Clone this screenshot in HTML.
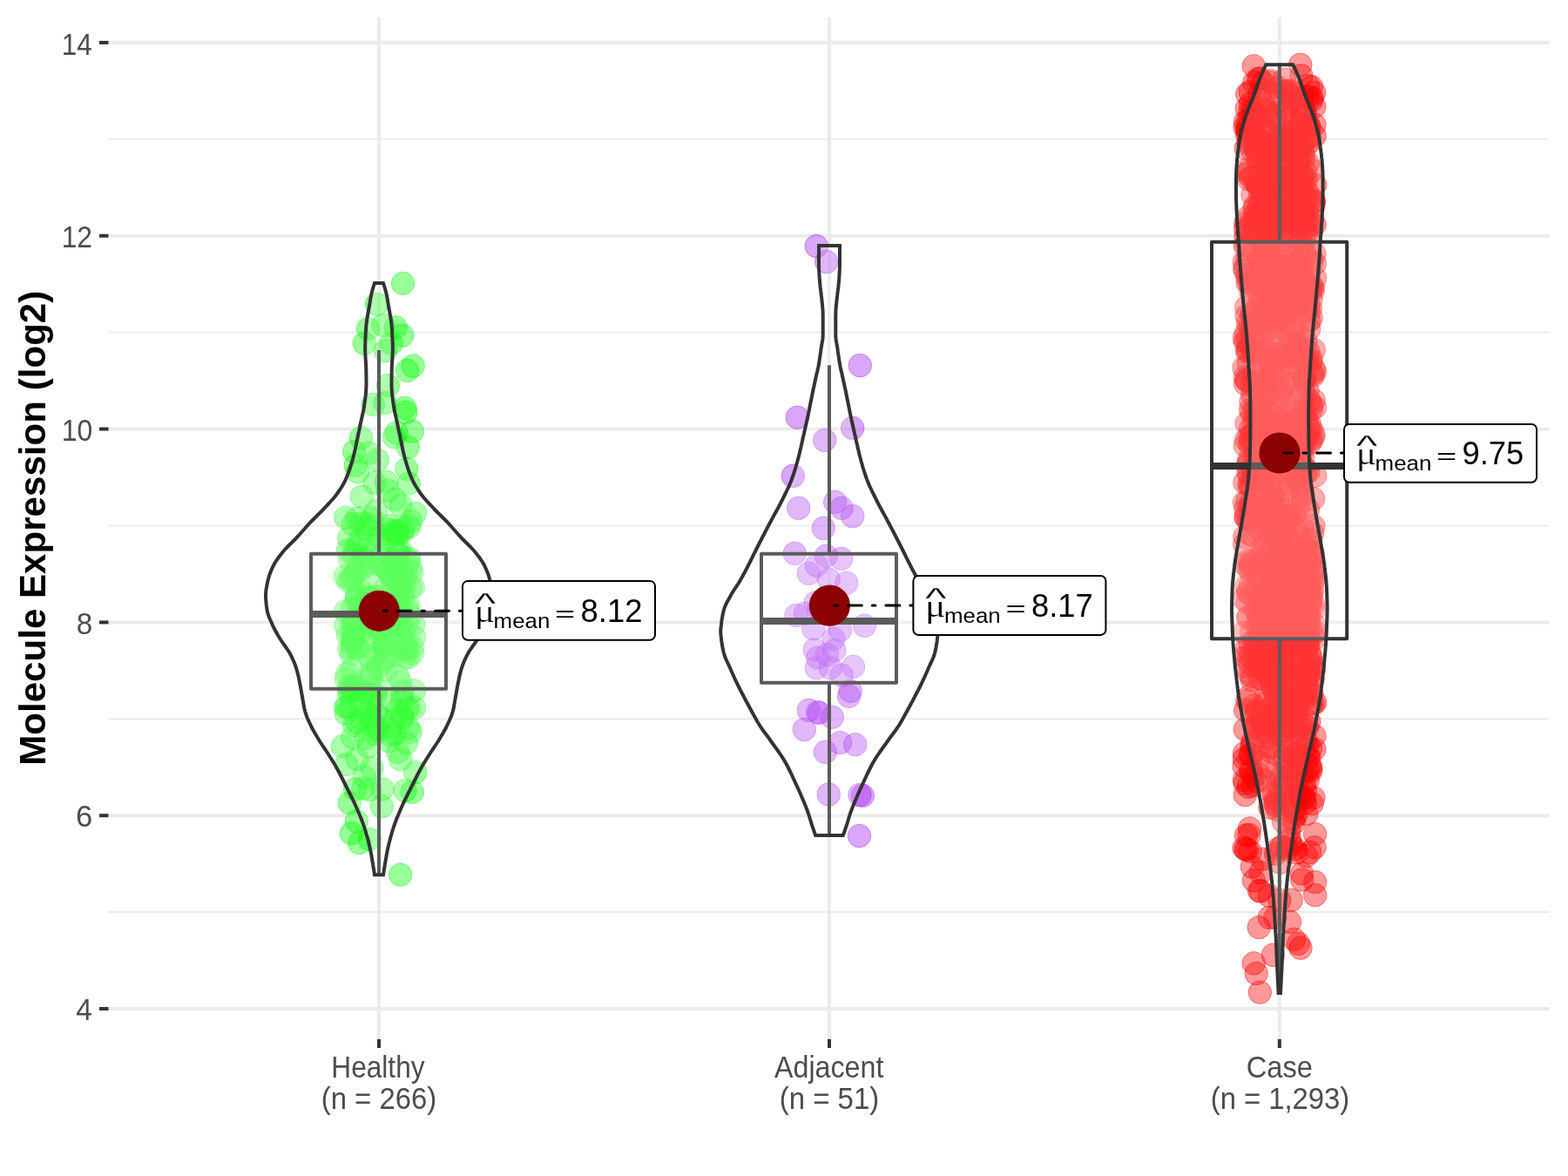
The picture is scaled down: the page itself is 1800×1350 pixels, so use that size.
<!DOCTYPE html>
<html lang="en"><head><meta charset="utf-8"><title>Molecule Expression (log2)</title>
<style>
html,body{margin:0;padding:0;background:#fff;}
body{width:1800px;height:1350px;overflow:hidden;}
svg{display:block;}
text{font-family:"Liberation Sans",sans-serif;}
.tk{fill:#4D4D4D;}
.yt{font-weight:bold;fill:#000;}
.lb{fill:#000;}
.mu{font-family:"Liberation Serif",serif;fill:#000;}
.p0 circle{fill:#00FF00;fill-opacity:.4;stroke:#00FF00;stroke-opacity:.4;stroke-width:1;}
.p1 circle{fill:#A020F0;fill-opacity:.4;stroke:#A020F0;stroke-opacity:.4;stroke-width:1;}
.p2 circle{fill:#FF0000;fill-opacity:.4;stroke:#FF0000;stroke-opacity:.4;stroke-width:1;}
</style></head><body>
<svg width="1800" height="1350" viewBox="0 0 1800 1350">
<rect width="1800" height="1350" fill="#fff"/>

<g stroke="#EBEBEB" fill="none">
<line x1="124.5" x2="1778.8" y1="1047.1" y2="1047.1" stroke-width="2"/>
<line x1="124.5" x2="1778.8" y1="825.3" y2="825.3" stroke-width="2"/>
<line x1="124.5" x2="1778.8" y1="603.5" y2="603.5" stroke-width="2"/>
<line x1="124.5" x2="1778.8" y1="381.6" y2="381.6" stroke-width="2"/>
<line x1="124.5" x2="1778.8" y1="159.8" y2="159.8" stroke-width="2"/>
<line x1="124.5" x2="1778.8" y1="1158.0" y2="1158.0" stroke-width="4"/>
<line x1="124.5" x2="1778.8" y1="936.2" y2="936.2" stroke-width="4"/>
<line x1="124.5" x2="1778.8" y1="714.4" y2="714.4" stroke-width="4"/>
<line x1="124.5" x2="1778.8" y1="492.5" y2="492.5" stroke-width="4"/>
<line x1="124.5" x2="1778.8" y1="270.7" y2="270.7" stroke-width="4"/>
<line x1="124.5" x2="1778.8" y1="48.9" y2="48.9" stroke-width="4"/>
<line x1="435.0" x2="435.0" y1="20.0" y2="1192.0" stroke-width="4"/>
<line x1="952.0" x2="952.0" y1="20.0" y2="1192.0" stroke-width="4"/>
<line x1="1468.8" x2="1468.8" y1="20.0" y2="1192.0" stroke-width="4"/>
</g>
<g class="p0">
<circle cx="441.1" cy="741.9" r="13.3"/>
<circle cx="397.3" cy="819.1" r="13.3"/>
<circle cx="459.7" cy="782.6" r="13.3"/>
<circle cx="472.7" cy="656.9" r="13.3"/>
<circle cx="464.0" cy="672.5" r="13.3"/>
<circle cx="398.2" cy="811.8" r="13.3"/>
<circle cx="421.8" cy="601.7" r="13.3"/>
<circle cx="420.1" cy="796.0" r="13.3"/>
<circle cx="403.2" cy="788.8" r="13.3"/>
<circle cx="445.4" cy="706.8" r="13.3"/>
<circle cx="459.4" cy="673.1" r="13.3"/>
<circle cx="419.7" cy="668.0" r="13.3"/>
<circle cx="464.8" cy="663.2" r="13.3"/>
<circle cx="459.4" cy="702.1" r="13.3"/>
<circle cx="404.6" cy="714.5" r="13.3"/>
<circle cx="456.9" cy="725.2" r="13.3"/>
<circle cx="466.4" cy="853.2" r="13.3"/>
<circle cx="410.2" cy="787.6" r="13.3"/>
<circle cx="441.0" cy="741.2" r="13.3"/>
<circle cx="446.4" cy="850.6" r="13.3"/>
<circle cx="444.0" cy="654.8" r="13.3"/>
<circle cx="401.9" cy="642.8" r="13.3"/>
<circle cx="448.2" cy="738.8" r="13.3"/>
<circle cx="445.8" cy="613.6" r="13.3"/>
<circle cx="461.6" cy="611.1" r="13.3"/>
<circle cx="459.9" cy="716.7" r="13.3"/>
<circle cx="420.8" cy="706.4" r="13.3"/>
<circle cx="453.2" cy="825.5" r="13.3"/>
<circle cx="465.1" cy="742.9" r="13.3"/>
<circle cx="467.2" cy="716.6" r="13.3"/>
<circle cx="407.2" cy="712.9" r="13.3"/>
<circle cx="396.2" cy="661.6" r="13.3"/>
<circle cx="447.4" cy="603.8" r="13.3"/>
<circle cx="411.6" cy="649.9" r="13.3"/>
<circle cx="440.2" cy="759.1" r="13.3"/>
<circle cx="471.5" cy="651.7" r="13.3"/>
<circle cx="425.1" cy="686.6" r="13.3"/>
<circle cx="414.7" cy="601.2" r="13.3"/>
<circle cx="431.4" cy="798.6" r="13.3"/>
<circle cx="447.9" cy="641.5" r="13.3"/>
<circle cx="402.3" cy="665.8" r="13.3"/>
<circle cx="425.2" cy="813.9" r="13.3"/>
<circle cx="405.0" cy="715.6" r="13.3"/>
<circle cx="448.3" cy="803.8" r="13.3"/>
<circle cx="462.1" cy="745.5" r="13.3"/>
<circle cx="424.9" cy="772.9" r="13.3"/>
<circle cx="424.5" cy="626.4" r="13.3"/>
<circle cx="438.2" cy="722.4" r="13.3"/>
<circle cx="411.6" cy="715.2" r="13.3"/>
<circle cx="414.3" cy="811.1" r="13.3"/>
<circle cx="421.0" cy="685.0" r="13.3"/>
<circle cx="431.5" cy="735.4" r="13.3"/>
<circle cx="400.7" cy="617.9" r="13.3"/>
<circle cx="455.7" cy="690.3" r="13.3"/>
<circle cx="441.5" cy="677.2" r="13.3"/>
<circle cx="418.6" cy="640.5" r="13.3"/>
<circle cx="400.4" cy="794.5" r="13.3"/>
<circle cx="456.6" cy="688.6" r="13.3"/>
<circle cx="404.7" cy="846.7" r="13.3"/>
<circle cx="404.9" cy="733.5" r="13.3"/>
<circle cx="404.7" cy="737.0" r="13.3"/>
<circle cx="400.7" cy="745.1" r="13.3"/>
<circle cx="468.3" cy="755.0" r="13.3"/>
<circle cx="416.1" cy="640.7" r="13.3"/>
<circle cx="419.1" cy="701.1" r="13.3"/>
<circle cx="462.3" cy="660.0" r="13.3"/>
<circle cx="444.8" cy="693.3" r="13.3"/>
<circle cx="409.3" cy="627.8" r="13.3"/>
<circle cx="429.7" cy="842.7" r="13.3"/>
<circle cx="466.5" cy="654.8" r="13.3"/>
<circle cx="424.8" cy="753.7" r="13.3"/>
<circle cx="452.3" cy="672.6" r="13.3"/>
<circle cx="401.9" cy="812.0" r="13.3"/>
<circle cx="453.6" cy="751.3" r="13.3"/>
<circle cx="457.7" cy="636.2" r="13.3"/>
<circle cx="461.7" cy="803.1" r="13.3"/>
<circle cx="449.3" cy="834.7" r="13.3"/>
<circle cx="424.4" cy="821.2" r="13.3"/>
<circle cx="399.3" cy="728.8" r="13.3"/>
<circle cx="436.5" cy="639.4" r="13.3"/>
<circle cx="456.1" cy="649.9" r="13.3"/>
<circle cx="409.6" cy="829.0" r="13.3"/>
<circle cx="415.8" cy="724.9" r="13.3"/>
<circle cx="438.0" cy="647.3" r="13.3"/>
<circle cx="455.4" cy="815.0" r="13.3"/>
<circle cx="467.5" cy="746.0" r="13.3"/>
<circle cx="404.3" cy="728.8" r="13.3"/>
<circle cx="409.1" cy="688.0" r="13.3"/>
<circle cx="459.6" cy="695.1" r="13.3"/>
<circle cx="446.9" cy="659.9" r="13.3"/>
<circle cx="453.1" cy="611.8" r="13.3"/>
<circle cx="475.7" cy="812.6" r="13.3"/>
<circle cx="471.0" cy="706.7" r="13.3"/>
<circle cx="463.1" cy="723.9" r="13.3"/>
<circle cx="457.7" cy="677.0" r="13.3"/>
<circle cx="426.4" cy="775.6" r="13.3"/>
<circle cx="446.6" cy="608.0" r="13.3"/>
<circle cx="409.1" cy="687.2" r="13.3"/>
<circle cx="456.3" cy="609.5" r="13.3"/>
<circle cx="456.1" cy="634.2" r="13.3"/>
<circle cx="453.1" cy="842.5" r="13.3"/>
<circle cx="430.5" cy="750.1" r="13.3"/>
<circle cx="425.0" cy="698.6" r="13.3"/>
<circle cx="428.4" cy="718.6" r="13.3"/>
<circle cx="396.7" cy="811.6" r="13.3"/>
<circle cx="463.2" cy="681.5" r="13.3"/>
<circle cx="438.5" cy="733.6" r="13.3"/>
<circle cx="425.8" cy="756.9" r="13.3"/>
<circle cx="438.9" cy="683.8" r="13.3"/>
<circle cx="453.2" cy="717.6" r="13.3"/>
<circle cx="425.3" cy="779.6" r="13.3"/>
<circle cx="462.1" cy="822.9" r="13.3"/>
<circle cx="469.4" cy="640.7" r="13.3"/>
<circle cx="425.8" cy="830.8" r="13.3"/>
<circle cx="405.3" cy="601.6" r="13.3"/>
<circle cx="456.4" cy="776.1" r="13.3"/>
<circle cx="475.4" cy="792.8" r="13.3"/>
<circle cx="406.1" cy="637.4" r="13.3"/>
<circle cx="452.4" cy="696.7" r="13.3"/>
<circle cx="461.7" cy="794.2" r="13.3"/>
<circle cx="469.5" cy="604.6" r="13.3"/>
<circle cx="404.1" cy="742.7" r="13.3"/>
<circle cx="401.5" cy="787.7" r="13.3"/>
<circle cx="475.0" cy="716.3" r="13.3"/>
<circle cx="403.6" cy="768.4" r="13.3"/>
<circle cx="408.5" cy="657.2" r="13.3"/>
<circle cx="441.1" cy="651.2" r="13.3"/>
<circle cx="430.6" cy="685.3" r="13.3"/>
<circle cx="455.5" cy="647.1" r="13.3"/>
<circle cx="409.6" cy="681.9" r="13.3"/>
<circle cx="469.0" cy="835.8" r="13.3"/>
<circle cx="411.8" cy="729.7" r="13.3"/>
<circle cx="457.1" cy="680.7" r="13.3"/>
<circle cx="399.5" cy="666.6" r="13.3"/>
<circle cx="432.8" cy="837.1" r="13.3"/>
<circle cx="396.7" cy="701.9" r="13.3"/>
<circle cx="419.7" cy="847.4" r="13.3"/>
<circle cx="419.6" cy="716.9" r="13.3"/>
<circle cx="453.0" cy="718.1" r="13.3"/>
<circle cx="431.3" cy="818.9" r="13.3"/>
<circle cx="398.7" cy="773.2" r="13.3"/>
<circle cx="475.6" cy="731.3" r="13.3"/>
<circle cx="466.9" cy="698.3" r="13.3"/>
<circle cx="469.1" cy="813.2" r="13.3"/>
<circle cx="414.2" cy="695.2" r="13.3"/>
<circle cx="426.3" cy="827.3" r="13.3"/>
<circle cx="412.6" cy="620.5" r="13.3"/>
<circle cx="404.2" cy="699.0" r="13.3"/>
<circle cx="396.7" cy="717.7" r="13.3"/>
<circle cx="435.3" cy="836.8" r="13.3"/>
<circle cx="404.1" cy="662.4" r="13.3"/>
<circle cx="408.5" cy="791.5" r="13.3"/>
<circle cx="464.6" cy="755.0" r="13.3"/>
<circle cx="433.7" cy="766.0" r="13.3"/>
<circle cx="409.1" cy="743.0" r="13.3"/>
<circle cx="448.9" cy="844.1" r="13.3"/>
<circle cx="415.8" cy="679.1" r="13.3"/>
<circle cx="437.2" cy="692.5" r="13.3"/>
<circle cx="417.2" cy="652.2" r="13.3"/>
<circle cx="436.3" cy="615.5" r="13.3"/>
<circle cx="445.5" cy="654.3" r="13.3"/>
<circle cx="438.0" cy="824.9" r="13.3"/>
<circle cx="426.4" cy="801.6" r="13.3"/>
<circle cx="458.8" cy="631.6" r="13.3"/>
<circle cx="465.6" cy="736.7" r="13.3"/>
<circle cx="408.7" cy="709.1" r="13.3"/>
<circle cx="405.2" cy="734.6" r="13.3"/>
<circle cx="403.3" cy="750.5" r="13.3"/>
<circle cx="474.3" cy="673.8" r="13.3"/>
<circle cx="471.2" cy="840.4" r="13.3"/>
<circle cx="412.9" cy="706.4" r="13.3"/>
<circle cx="473.5" cy="742.6" r="13.3"/>
<circle cx="411.0" cy="744.4" r="13.3"/>
<circle cx="435.5" cy="648.0" r="13.3"/>
<circle cx="434.8" cy="618.6" r="13.3"/>
<circle cx="469.0" cy="695.2" r="13.3"/>
<circle cx="397.3" cy="779.3" r="13.3"/>
<circle cx="419.9" cy="794.2" r="13.3"/>
<circle cx="443.2" cy="769.6" r="13.3"/>
<circle cx="399.4" cy="631.8" r="13.3"/>
<circle cx="413.4" cy="824.2" r="13.3"/>
<circle cx="432.1" cy="790.3" r="13.3"/>
<circle cx="466.2" cy="813.1" r="13.3"/>
<circle cx="456.4" cy="718.5" r="13.3"/>
<circle cx="462.0" cy="825.0" r="13.3"/>
<circle cx="456.4" cy="614.3" r="13.3"/>
<circle cx="452.0" cy="609.5" r="13.3"/>
<circle cx="463.7" cy="606.4" r="13.3"/>
<circle cx="449.9" cy="662.7" r="13.3"/>
<circle cx="454.3" cy="661.8" r="13.3"/>
<circle cx="418.7" cy="648.8" r="13.3"/>
<circle cx="407.7" cy="728.2" r="13.3"/>
<circle cx="456.0" cy="612.1" r="13.3"/>
<circle cx="407.6" cy="733.6" r="13.3"/>
<circle cx="469.4" cy="644.1" r="13.3"/>
<circle cx="442.9" cy="755.4" r="13.3"/>
<circle cx="421.0" cy="606.7" r="13.3"/>
<circle cx="470.8" cy="674.6" r="13.3"/>
<circle cx="406.7" cy="832.5" r="13.3"/>
<circle cx="436.2" cy="721.8" r="13.3"/>
<circle cx="401.5" cy="793.1" r="13.3"/>
<circle cx="473.2" cy="750.2" r="13.3"/>
<circle cx="441.2" cy="738.4" r="13.3"/>
<circle cx="459.9" cy="649.6" r="13.3"/>
<circle cx="462.5" cy="325.3" r="13.3"/>
<circle cx="432.5" cy="349.2" r="13.3"/>
<circle cx="422.5" cy="377.5" r="13.3"/>
<circle cx="440.0" cy="373.3" r="13.3"/>
<circle cx="454.2" cy="375.8" r="13.3"/>
<circle cx="461.7" cy="385.0" r="13.3"/>
<circle cx="449.2" cy="394.2" r="13.3"/>
<circle cx="418.3" cy="394.2" r="13.3"/>
<circle cx="442.5" cy="402.5" r="13.3"/>
<circle cx="474.2" cy="420.0" r="13.3"/>
<circle cx="467.5" cy="425.3" r="13.3"/>
<circle cx="445.3" cy="442.5" r="13.3"/>
<circle cx="428.3" cy="464.2" r="13.3"/>
<circle cx="442.0" cy="462.5" r="13.3"/>
<circle cx="465.0" cy="468.3" r="13.3"/>
<circle cx="465.8" cy="473.3" r="13.3"/>
<circle cx="473.3" cy="495.0" r="13.3"/>
<circle cx="455.0" cy="496.7" r="13.3"/>
<circle cx="452.5" cy="501.7" r="13.3"/>
<circle cx="414.5" cy="502.5" r="13.3"/>
<circle cx="468.3" cy="513.3" r="13.3"/>
<circle cx="406.7" cy="518.3" r="13.3"/>
<circle cx="423.3" cy="520.0" r="13.3"/>
<circle cx="433.3" cy="528.0" r="13.3"/>
<circle cx="408.3" cy="534.2" r="13.3"/>
<circle cx="410.8" cy="541.7" r="13.3"/>
<circle cx="466.7" cy="538.3" r="13.3"/>
<circle cx="430.0" cy="554.2" r="13.3"/>
<circle cx="443.3" cy="553.3" r="13.3"/>
<circle cx="469.2" cy="555.0" r="13.3"/>
<circle cx="445.0" cy="563.3" r="13.3"/>
<circle cx="415.3" cy="570.0" r="13.3"/>
<circle cx="453.3" cy="573.3" r="13.3"/>
<circle cx="460.0" cy="580.0" r="13.3"/>
<circle cx="431.7" cy="586.7" r="13.3"/>
<circle cx="396.7" cy="594.2" r="13.3"/>
<circle cx="410.0" cy="595.0" r="13.3"/>
<circle cx="426.7" cy="595.0" r="13.3"/>
<circle cx="476.7" cy="589.2" r="13.3"/>
<circle cx="471.7" cy="598.3" r="13.3"/>
<circle cx="459.7" cy="1004.2" r="13.3"/>
<circle cx="412.5" cy="967.5" r="13.3"/>
<circle cx="424.2" cy="963.3" r="13.3"/>
<circle cx="403.3" cy="956.7" r="13.3"/>
<circle cx="409.2" cy="942.5" r="13.3"/>
<circle cx="438.3" cy="925.8" r="13.3"/>
<circle cx="401.2" cy="921.7" r="13.3"/>
<circle cx="473.3" cy="909.2" r="13.3"/>
<circle cx="465.0" cy="907.5" r="13.3"/>
<circle cx="439.2" cy="905.8" r="13.3"/>
<circle cx="424.2" cy="906.7" r="13.3"/>
<circle cx="416.7" cy="905.0" r="13.3"/>
<circle cx="407.5" cy="905.8" r="13.3"/>
<circle cx="476.7" cy="886.7" r="13.3"/>
<circle cx="418.3" cy="891.7" r="13.3"/>
<circle cx="426.7" cy="881.7" r="13.3"/>
<circle cx="397.5" cy="877.5" r="13.3"/>
<circle cx="410.0" cy="871.7" r="13.3"/>
<circle cx="460.0" cy="871.7" r="13.3"/>
<circle cx="456.7" cy="863.3" r="13.3"/>
<circle cx="393.3" cy="856.7" r="13.3"/>
<circle cx="423.0" cy="857.0" r="13.3"/>
</g>
<g class="p1">
<circle cx="915.3" cy="479.2" r="13.3"/>
<circle cx="978.7" cy="491.3" r="13.3"/>
<circle cx="946.7" cy="505.3" r="13.3"/>
<circle cx="910.3" cy="546.3" r="13.3"/>
<circle cx="958.7" cy="576.3" r="13.3"/>
<circle cx="966.2" cy="583.3" r="13.3"/>
<circle cx="916.7" cy="583.3" r="13.3"/>
<circle cx="978.7" cy="592.5" r="13.3"/>
<circle cx="945.3" cy="606.3" r="13.3"/>
<circle cx="912.3" cy="635.3" r="13.3"/>
<circle cx="948.3" cy="638.3" r="13.3"/>
<circle cx="965.7" cy="641.3" r="13.3"/>
<circle cx="937.3" cy="649.2" r="13.3"/>
<circle cx="928.3" cy="658.3" r="13.3"/>
<circle cx="951.2" cy="665.0" r="13.3"/>
<circle cx="971.7" cy="669.2" r="13.3"/>
<circle cx="936.2" cy="691.7" r="13.3"/>
<circle cx="914.0" cy="706.3" r="13.3"/>
<circle cx="924.5" cy="704.2" r="13.3"/>
<circle cx="992.5" cy="718.3" r="13.3"/>
<circle cx="933.7" cy="721.7" r="13.3"/>
<circle cx="940.0" cy="700.0" r="13.3"/>
<circle cx="950.0" cy="705.0" r="13.3"/>
<circle cx="964.5" cy="723.3" r="13.3"/>
<circle cx="957.0" cy="733.3" r="13.3"/>
<circle cx="935.3" cy="745.8" r="13.3"/>
<circle cx="957.8" cy="746.7" r="13.3"/>
<circle cx="938.7" cy="755.0" r="13.3"/>
<circle cx="949.5" cy="751.7" r="13.3"/>
<circle cx="979.5" cy="765.3" r="13.3"/>
<circle cx="937.3" cy="766.7" r="13.3"/>
<circle cx="953.3" cy="766.7" r="13.3"/>
<circle cx="966.2" cy="775.0" r="13.3"/>
<circle cx="976.2" cy="793.3" r="13.3"/>
<circle cx="974.5" cy="799.2" r="13.3"/>
<circle cx="928.3" cy="815.3" r="13.3"/>
<circle cx="938.7" cy="817.5" r="13.3"/>
<circle cx="940.3" cy="818.3" r="13.3"/>
<circle cx="955.3" cy="823.3" r="13.3"/>
<circle cx="923.3" cy="837.5" r="13.3"/>
<circle cx="964.5" cy="852.5" r="13.3"/>
<circle cx="981.7" cy="854.7" r="13.3"/>
<circle cx="947.3" cy="863.3" r="13.3"/>
<circle cx="951.2" cy="912.0" r="13.3"/>
<circle cx="987.0" cy="912.5" r="13.3"/>
<circle cx="990.3" cy="913.3" r="13.3"/>
<circle cx="986.5" cy="959.5" r="13.3"/>
<circle cx="937.3" cy="282.5" r="13.3"/>
<circle cx="948.7" cy="300.5" r="13.3"/>
<circle cx="987.3" cy="419.5" r="13.3"/>
<circle cx="958.0" cy="690.0" r="13.3"/>
</g>
<g class="p2">
<circle cx="1482.1" cy="320.2" r="13.3"/>
<circle cx="1491.9" cy="764.4" r="13.3"/>
<circle cx="1490.1" cy="697.4" r="13.3"/>
<circle cx="1483.2" cy="657.8" r="13.3"/>
<circle cx="1429.2" cy="899.1" r="13.3"/>
<circle cx="1446.6" cy="465.8" r="13.3"/>
<circle cx="1470.0" cy="446.0" r="13.3"/>
<circle cx="1485.4" cy="690.3" r="13.3"/>
<circle cx="1459.5" cy="788.7" r="13.3"/>
<circle cx="1464.6" cy="366.2" r="13.3"/>
<circle cx="1496.7" cy="675.3" r="13.3"/>
<circle cx="1429.7" cy="262.7" r="13.3"/>
<circle cx="1449.8" cy="587.2" r="13.3"/>
<circle cx="1451.6" cy="741.7" r="13.3"/>
<circle cx="1509.2" cy="155.9" r="13.3"/>
<circle cx="1446.5" cy="713.9" r="13.3"/>
<circle cx="1431.7" cy="108.1" r="13.3"/>
<circle cx="1462.0" cy="910.5" r="13.3"/>
<circle cx="1481.1" cy="503.9" r="13.3"/>
<circle cx="1440.4" cy="439.6" r="13.3"/>
<circle cx="1496.7" cy="709.0" r="13.3"/>
<circle cx="1443.9" cy="560.9" r="13.3"/>
<circle cx="1485.6" cy="715.9" r="13.3"/>
<circle cx="1441.1" cy="171.2" r="13.3"/>
<circle cx="1500.1" cy="596.8" r="13.3"/>
<circle cx="1444.3" cy="592.8" r="13.3"/>
<circle cx="1487.8" cy="875.6" r="13.3"/>
<circle cx="1496.6" cy="133.8" r="13.3"/>
<circle cx="1448.7" cy="486.7" r="13.3"/>
<circle cx="1435.4" cy="649.0" r="13.3"/>
<circle cx="1475.9" cy="586.4" r="13.3"/>
<circle cx="1468.7" cy="163.0" r="13.3"/>
<circle cx="1467.1" cy="621.3" r="13.3"/>
<circle cx="1491.9" cy="272.7" r="13.3"/>
<circle cx="1465.8" cy="252.6" r="13.3"/>
<circle cx="1468.6" cy="823.4" r="13.3"/>
<circle cx="1467.8" cy="254.3" r="13.3"/>
<circle cx="1465.1" cy="488.3" r="13.3"/>
<circle cx="1461.1" cy="728.9" r="13.3"/>
<circle cx="1441.0" cy="700.3" r="13.3"/>
<circle cx="1452.0" cy="588.7" r="13.3"/>
<circle cx="1449.5" cy="768.2" r="13.3"/>
<circle cx="1448.2" cy="500.8" r="13.3"/>
<circle cx="1492.0" cy="641.4" r="13.3"/>
<circle cx="1437.2" cy="776.7" r="13.3"/>
<circle cx="1444.6" cy="681.0" r="13.3"/>
<circle cx="1471.0" cy="656.5" r="13.3"/>
<circle cx="1453.4" cy="436.4" r="13.3"/>
<circle cx="1447.5" cy="593.0" r="13.3"/>
<circle cx="1458.4" cy="425.9" r="13.3"/>
<circle cx="1469.0" cy="724.9" r="13.3"/>
<circle cx="1483.1" cy="409.9" r="13.3"/>
<circle cx="1507.5" cy="501.7" r="13.3"/>
<circle cx="1497.7" cy="732.4" r="13.3"/>
<circle cx="1463.1" cy="541.1" r="13.3"/>
<circle cx="1464.8" cy="369.0" r="13.3"/>
<circle cx="1461.9" cy="782.6" r="13.3"/>
<circle cx="1447.4" cy="410.5" r="13.3"/>
<circle cx="1505.8" cy="796.0" r="13.3"/>
<circle cx="1433.4" cy="752.8" r="13.3"/>
<circle cx="1444.6" cy="480.7" r="13.3"/>
<circle cx="1482.1" cy="704.0" r="13.3"/>
<circle cx="1476.1" cy="128.9" r="13.3"/>
<circle cx="1450.6" cy="419.5" r="13.3"/>
<circle cx="1504.6" cy="808.2" r="13.3"/>
<circle cx="1461.4" cy="610.6" r="13.3"/>
<circle cx="1476.7" cy="592.5" r="13.3"/>
<circle cx="1435.3" cy="672.0" r="13.3"/>
<circle cx="1500.9" cy="680.7" r="13.3"/>
<circle cx="1436.2" cy="613.8" r="13.3"/>
<circle cx="1460.1" cy="451.9" r="13.3"/>
<circle cx="1500.4" cy="243.7" r="13.3"/>
<circle cx="1505.3" cy="329.1" r="13.3"/>
<circle cx="1501.9" cy="329.3" r="13.3"/>
<circle cx="1495.7" cy="462.8" r="13.3"/>
<circle cx="1446.9" cy="1001.5" r="13.3"/>
<circle cx="1430.4" cy="382.6" r="13.3"/>
<circle cx="1464.8" cy="480.8" r="13.3"/>
<circle cx="1433.0" cy="401.1" r="13.3"/>
<circle cx="1506.6" cy="612.1" r="13.3"/>
<circle cx="1428.5" cy="895.4" r="13.3"/>
<circle cx="1454.5" cy="832.4" r="13.3"/>
<circle cx="1444.5" cy="406.6" r="13.3"/>
<circle cx="1428.9" cy="307.9" r="13.3"/>
<circle cx="1468.7" cy="828.3" r="13.3"/>
<circle cx="1434.0" cy="530.8" r="13.3"/>
<circle cx="1501.6" cy="685.9" r="13.3"/>
<circle cx="1484.2" cy="162.3" r="13.3"/>
<circle cx="1458.1" cy="813.3" r="13.3"/>
<circle cx="1496.8" cy="346.5" r="13.3"/>
<circle cx="1493.1" cy="531.5" r="13.3"/>
<circle cx="1454.6" cy="254.4" r="13.3"/>
<circle cx="1497.3" cy="451.5" r="13.3"/>
<circle cx="1504.0" cy="783.5" r="13.3"/>
<circle cx="1478.6" cy="783.1" r="13.3"/>
<circle cx="1456.6" cy="509.3" r="13.3"/>
<circle cx="1501.6" cy="740.9" r="13.3"/>
<circle cx="1505.1" cy="492.4" r="13.3"/>
<circle cx="1456.3" cy="402.9" r="13.3"/>
<circle cx="1434.9" cy="582.0" r="13.3"/>
<circle cx="1499.0" cy="256.9" r="13.3"/>
<circle cx="1482.3" cy="349.6" r="13.3"/>
<circle cx="1446.8" cy="699.8" r="13.3"/>
<circle cx="1474.3" cy="742.6" r="13.3"/>
<circle cx="1453.1" cy="148.9" r="13.3"/>
<circle cx="1503.2" cy="717.2" r="13.3"/>
<circle cx="1455.9" cy="775.7" r="13.3"/>
<circle cx="1443.9" cy="478.5" r="13.3"/>
<circle cx="1431.3" cy="153.6" r="13.3"/>
<circle cx="1455.9" cy="684.2" r="13.3"/>
<circle cx="1508.9" cy="291.4" r="13.3"/>
<circle cx="1445.7" cy="657.5" r="13.3"/>
<circle cx="1465.4" cy="406.1" r="13.3"/>
<circle cx="1507.5" cy="653.3" r="13.3"/>
<circle cx="1428.4" cy="300.9" r="13.3"/>
<circle cx="1452.0" cy="512.3" r="13.3"/>
<circle cx="1495.1" cy="562.2" r="13.3"/>
<circle cx="1435.6" cy="649.0" r="13.3"/>
<circle cx="1503.9" cy="258.3" r="13.3"/>
<circle cx="1496.2" cy="916.3" r="13.3"/>
<circle cx="1439.5" cy="326.2" r="13.3"/>
<circle cx="1476.4" cy="340.5" r="13.3"/>
<circle cx="1473.4" cy="299.4" r="13.3"/>
<circle cx="1484.7" cy="157.7" r="13.3"/>
<circle cx="1453.0" cy="454.4" r="13.3"/>
<circle cx="1459.3" cy="743.5" r="13.3"/>
<circle cx="1447.5" cy="701.8" r="13.3"/>
<circle cx="1451.7" cy="252.6" r="13.3"/>
<circle cx="1442.2" cy="209.7" r="13.3"/>
<circle cx="1502.0" cy="353.9" r="13.3"/>
<circle cx="1500.6" cy="741.1" r="13.3"/>
<circle cx="1457.3" cy="524.7" r="13.3"/>
<circle cx="1484.6" cy="865.6" r="13.3"/>
<circle cx="1468.0" cy="666.4" r="13.3"/>
<circle cx="1450.8" cy="641.8" r="13.3"/>
<circle cx="1456.5" cy="740.7" r="13.3"/>
<circle cx="1506.9" cy="728.9" r="13.3"/>
<circle cx="1455.8" cy="374.4" r="13.3"/>
<circle cx="1475.3" cy="300.0" r="13.3"/>
<circle cx="1505.3" cy="470.3" r="13.3"/>
<circle cx="1452.2" cy="525.9" r="13.3"/>
<circle cx="1494.1" cy="213.2" r="13.3"/>
<circle cx="1437.2" cy="474.3" r="13.3"/>
<circle cx="1487.9" cy="655.1" r="13.3"/>
<circle cx="1493.9" cy="208.8" r="13.3"/>
<circle cx="1496.5" cy="210.5" r="13.3"/>
<circle cx="1507.8" cy="236.5" r="13.3"/>
<circle cx="1486.1" cy="321.3" r="13.3"/>
<circle cx="1507.9" cy="915.7" r="13.3"/>
<circle cx="1450.6" cy="120.1" r="13.3"/>
<circle cx="1470.6" cy="243.9" r="13.3"/>
<circle cx="1445.4" cy="230.2" r="13.3"/>
<circle cx="1434.6" cy="510.0" r="13.3"/>
<circle cx="1463.8" cy="107.7" r="13.3"/>
<circle cx="1486.8" cy="492.5" r="13.3"/>
<circle cx="1491.6" cy="228.6" r="13.3"/>
<circle cx="1429.2" cy="310.1" r="13.3"/>
<circle cx="1505.1" cy="757.8" r="13.3"/>
<circle cx="1448.1" cy="244.1" r="13.3"/>
<circle cx="1451.8" cy="639.1" r="13.3"/>
<circle cx="1496.1" cy="436.6" r="13.3"/>
<circle cx="1501.1" cy="448.7" r="13.3"/>
<circle cx="1488.2" cy="775.2" r="13.3"/>
<circle cx="1455.1" cy="227.2" r="13.3"/>
<circle cx="1465.8" cy="866.2" r="13.3"/>
<circle cx="1496.2" cy="836.3" r="13.3"/>
<circle cx="1457.1" cy="674.4" r="13.3"/>
<circle cx="1493.8" cy="142.7" r="13.3"/>
<circle cx="1491.9" cy="671.1" r="13.3"/>
<circle cx="1466.2" cy="626.7" r="13.3"/>
<circle cx="1501.3" cy="743.8" r="13.3"/>
<circle cx="1459.3" cy="266.3" r="13.3"/>
<circle cx="1489.3" cy="903.1" r="13.3"/>
<circle cx="1480.3" cy="829.8" r="13.3"/>
<circle cx="1455.0" cy="193.3" r="13.3"/>
<circle cx="1471.4" cy="348.4" r="13.3"/>
<circle cx="1477.5" cy="127.0" r="13.3"/>
<circle cx="1471.8" cy="785.6" r="13.3"/>
<circle cx="1436.9" cy="857.0" r="13.3"/>
<circle cx="1509.1" cy="972.7" r="13.3"/>
<circle cx="1507.1" cy="635.3" r="13.3"/>
<circle cx="1430.9" cy="672.9" r="13.3"/>
<circle cx="1505.2" cy="681.2" r="13.3"/>
<circle cx="1471.4" cy="602.9" r="13.3"/>
<circle cx="1438.1" cy="901.7" r="13.3"/>
<circle cx="1495.1" cy="632.3" r="13.3"/>
<circle cx="1463.3" cy="366.8" r="13.3"/>
<circle cx="1486.3" cy="550.5" r="13.3"/>
<circle cx="1495.6" cy="112.1" r="13.3"/>
<circle cx="1471.9" cy="711.4" r="13.3"/>
<circle cx="1431.9" cy="691.5" r="13.3"/>
<circle cx="1495.2" cy="452.4" r="13.3"/>
<circle cx="1484.7" cy="801.3" r="13.3"/>
<circle cx="1502.4" cy="732.5" r="13.3"/>
<circle cx="1450.0" cy="367.7" r="13.3"/>
<circle cx="1492.2" cy="165.6" r="13.3"/>
<circle cx="1499.4" cy="206.3" r="13.3"/>
<circle cx="1456.9" cy="244.3" r="13.3"/>
<circle cx="1461.4" cy="338.7" r="13.3"/>
<circle cx="1455.2" cy="481.0" r="13.3"/>
<circle cx="1428.3" cy="870.9" r="13.3"/>
<circle cx="1446.8" cy="317.3" r="13.3"/>
<circle cx="1455.0" cy="841.0" r="13.3"/>
<circle cx="1436.7" cy="682.5" r="13.3"/>
<circle cx="1490.6" cy="802.8" r="13.3"/>
<circle cx="1462.8" cy="433.4" r="13.3"/>
<circle cx="1474.4" cy="91.2" r="13.3"/>
<circle cx="1451.1" cy="754.0" r="13.3"/>
<circle cx="1457.3" cy="290.8" r="13.3"/>
<circle cx="1489.6" cy="213.8" r="13.3"/>
<circle cx="1466.3" cy="762.8" r="13.3"/>
<circle cx="1476.7" cy="686.4" r="13.3"/>
<circle cx="1462.5" cy="265.3" r="13.3"/>
<circle cx="1473.5" cy="308.4" r="13.3"/>
<circle cx="1501.4" cy="884.1" r="13.3"/>
<circle cx="1449.7" cy="309.2" r="13.3"/>
<circle cx="1470.4" cy="697.1" r="13.3"/>
<circle cx="1484.2" cy="204.4" r="13.3"/>
<circle cx="1434.9" cy="773.9" r="13.3"/>
<circle cx="1506.7" cy="195.7" r="13.3"/>
<circle cx="1468.7" cy="553.7" r="13.3"/>
<circle cx="1447.9" cy="129.7" r="13.3"/>
<circle cx="1490.2" cy="585.8" r="13.3"/>
<circle cx="1494.7" cy="797.5" r="13.3"/>
<circle cx="1479.5" cy="170.9" r="13.3"/>
<circle cx="1502.9" cy="313.9" r="13.3"/>
<circle cx="1435.1" cy="738.7" r="13.3"/>
<circle cx="1471.1" cy="632.5" r="13.3"/>
<circle cx="1488.7" cy="346.3" r="13.3"/>
<circle cx="1503.0" cy="647.5" r="13.3"/>
<circle cx="1480.4" cy="488.8" r="13.3"/>
<circle cx="1477.2" cy="809.9" r="13.3"/>
<circle cx="1459.6" cy="329.3" r="13.3"/>
<circle cx="1474.7" cy="733.9" r="13.3"/>
<circle cx="1473.3" cy="652.2" r="13.3"/>
<circle cx="1502.0" cy="722.3" r="13.3"/>
<circle cx="1495.6" cy="407.8" r="13.3"/>
<circle cx="1488.3" cy="712.0" r="13.3"/>
<circle cx="1503.6" cy="694.4" r="13.3"/>
<circle cx="1433.2" cy="417.1" r="13.3"/>
<circle cx="1490.9" cy="120.8" r="13.3"/>
<circle cx="1465.8" cy="917.7" r="13.3"/>
<circle cx="1489.4" cy="704.5" r="13.3"/>
<circle cx="1452.1" cy="259.5" r="13.3"/>
<circle cx="1466.1" cy="715.9" r="13.3"/>
<circle cx="1495.4" cy="317.5" r="13.3"/>
<circle cx="1430.7" cy="504.5" r="13.3"/>
<circle cx="1451.7" cy="807.9" r="13.3"/>
<circle cx="1467.9" cy="481.6" r="13.3"/>
<circle cx="1497.6" cy="325.2" r="13.3"/>
<circle cx="1449.9" cy="340.0" r="13.3"/>
<circle cx="1495.3" cy="165.2" r="13.3"/>
<circle cx="1447.9" cy="270.7" r="13.3"/>
<circle cx="1452.7" cy="311.3" r="13.3"/>
<circle cx="1473.2" cy="236.0" r="13.3"/>
<circle cx="1481.4" cy="154.1" r="13.3"/>
<circle cx="1500.0" cy="500.8" r="13.3"/>
<circle cx="1499.9" cy="266.8" r="13.3"/>
<circle cx="1448.3" cy="721.2" r="13.3"/>
<circle cx="1488.9" cy="864.8" r="13.3"/>
<circle cx="1479.9" cy="312.8" r="13.3"/>
<circle cx="1459.5" cy="604.6" r="13.3"/>
<circle cx="1491.4" cy="544.3" r="13.3"/>
<circle cx="1501.4" cy="163.7" r="13.3"/>
<circle cx="1467.1" cy="201.0" r="13.3"/>
<circle cx="1502.9" cy="828.6" r="13.3"/>
<circle cx="1438.3" cy="509.8" r="13.3"/>
<circle cx="1441.4" cy="766.4" r="13.3"/>
<circle cx="1490.5" cy="157.0" r="13.3"/>
<circle cx="1452.9" cy="622.5" r="13.3"/>
<circle cx="1475.8" cy="812.2" r="13.3"/>
<circle cx="1468.6" cy="813.7" r="13.3"/>
<circle cx="1439.8" cy="94.9" r="13.3"/>
<circle cx="1489.6" cy="559.4" r="13.3"/>
<circle cx="1488.6" cy="398.6" r="13.3"/>
<circle cx="1439.7" cy="735.5" r="13.3"/>
<circle cx="1449.1" cy="162.2" r="13.3"/>
<circle cx="1493.4" cy="306.3" r="13.3"/>
<circle cx="1502.6" cy="772.2" r="13.3"/>
<circle cx="1499.1" cy="504.8" r="13.3"/>
<circle cx="1469.0" cy="487.1" r="13.3"/>
<circle cx="1457.9" cy="927.2" r="13.3"/>
<circle cx="1464.3" cy="352.6" r="13.3"/>
<circle cx="1442.3" cy="135.8" r="13.3"/>
<circle cx="1468.5" cy="421.9" r="13.3"/>
<circle cx="1446.7" cy="221.7" r="13.3"/>
<circle cx="1441.1" cy="169.0" r="13.3"/>
<circle cx="1459.0" cy="601.0" r="13.3"/>
<circle cx="1433.0" cy="903.4" r="13.3"/>
<circle cx="1466.4" cy="610.5" r="13.3"/>
<circle cx="1484.9" cy="660.1" r="13.3"/>
<circle cx="1481.2" cy="355.9" r="13.3"/>
<circle cx="1507.8" cy="603.7" r="13.3"/>
<circle cx="1500.4" cy="730.2" r="13.3"/>
<circle cx="1479.8" cy="618.2" r="13.3"/>
<circle cx="1501.4" cy="765.1" r="13.3"/>
<circle cx="1464.2" cy="586.1" r="13.3"/>
<circle cx="1493.3" cy="254.5" r="13.3"/>
<circle cx="1451.1" cy="613.1" r="13.3"/>
<circle cx="1471.0" cy="527.7" r="13.3"/>
<circle cx="1508.1" cy="230.8" r="13.3"/>
<circle cx="1476.9" cy="640.6" r="13.3"/>
<circle cx="1469.4" cy="775.3" r="13.3"/>
<circle cx="1492.4" cy="208.4" r="13.3"/>
<circle cx="1453.4" cy="581.2" r="13.3"/>
<circle cx="1495.9" cy="717.8" r="13.3"/>
<circle cx="1429.3" cy="433.2" r="13.3"/>
<circle cx="1447.3" cy="310.4" r="13.3"/>
<circle cx="1442.3" cy="401.8" r="13.3"/>
<circle cx="1448.9" cy="578.3" r="13.3"/>
<circle cx="1505.3" cy="686.7" r="13.3"/>
<circle cx="1429.8" cy="593.7" r="13.3"/>
<circle cx="1452.3" cy="187.9" r="13.3"/>
<circle cx="1474.9" cy="776.0" r="13.3"/>
<circle cx="1485.5" cy="866.3" r="13.3"/>
<circle cx="1491.3" cy="183.7" r="13.3"/>
<circle cx="1459.2" cy="294.0" r="13.3"/>
<circle cx="1445.9" cy="236.5" r="13.3"/>
<circle cx="1497.7" cy="799.5" r="13.3"/>
<circle cx="1437.8" cy="852.2" r="13.3"/>
<circle cx="1433.1" cy="138.1" r="13.3"/>
<circle cx="1446.8" cy="363.8" r="13.3"/>
<circle cx="1468.2" cy="250.3" r="13.3"/>
<circle cx="1505.1" cy="504.8" r="13.3"/>
<circle cx="1487.6" cy="863.8" r="13.3"/>
<circle cx="1474.0" cy="159.8" r="13.3"/>
<circle cx="1470.5" cy="234.7" r="13.3"/>
<circle cx="1484.7" cy="523.6" r="13.3"/>
<circle cx="1479.2" cy="561.6" r="13.3"/>
<circle cx="1455.4" cy="725.7" r="13.3"/>
<circle cx="1435.4" cy="470.3" r="13.3"/>
<circle cx="1444.3" cy="212.8" r="13.3"/>
<circle cx="1492.0" cy="383.6" r="13.3"/>
<circle cx="1479.8" cy="954.0" r="13.3"/>
<circle cx="1493.2" cy="729.2" r="13.3"/>
<circle cx="1431.4" cy="194.7" r="13.3"/>
<circle cx="1501.7" cy="769.0" r="13.3"/>
<circle cx="1459.1" cy="344.7" r="13.3"/>
<circle cx="1503.7" cy="750.1" r="13.3"/>
<circle cx="1476.6" cy="104.7" r="13.3"/>
<circle cx="1472.7" cy="817.1" r="13.3"/>
<circle cx="1494.9" cy="228.2" r="13.3"/>
<circle cx="1479.1" cy="489.9" r="13.3"/>
<circle cx="1483.1" cy="670.0" r="13.3"/>
<circle cx="1440.7" cy="545.4" r="13.3"/>
<circle cx="1477.4" cy="230.4" r="13.3"/>
<circle cx="1457.0" cy="211.3" r="13.3"/>
<circle cx="1434.0" cy="322.3" r="13.3"/>
<circle cx="1438.7" cy="145.2" r="13.3"/>
<circle cx="1467.1" cy="268.4" r="13.3"/>
<circle cx="1449.3" cy="204.8" r="13.3"/>
<circle cx="1490.6" cy="499.7" r="13.3"/>
<circle cx="1437.8" cy="386.4" r="13.3"/>
<circle cx="1428.9" cy="616.3" r="13.3"/>
<circle cx="1509.6" cy="319.3" r="13.3"/>
<circle cx="1453.5" cy="128.4" r="13.3"/>
<circle cx="1469.6" cy="362.6" r="13.3"/>
<circle cx="1445.0" cy="732.2" r="13.3"/>
<circle cx="1444.9" cy="299.0" r="13.3"/>
<circle cx="1460.8" cy="434.8" r="13.3"/>
<circle cx="1492.6" cy="732.1" r="13.3"/>
<circle cx="1431.0" cy="437.0" r="13.3"/>
<circle cx="1496.5" cy="830.6" r="13.3"/>
<circle cx="1509.0" cy="860.1" r="13.3"/>
<circle cx="1473.7" cy="344.4" r="13.3"/>
<circle cx="1457.3" cy="719.3" r="13.3"/>
<circle cx="1447.0" cy="296.9" r="13.3"/>
<circle cx="1442.8" cy="211.6" r="13.3"/>
<circle cx="1454.3" cy="470.6" r="13.3"/>
<circle cx="1497.6" cy="628.3" r="13.3"/>
<circle cx="1428.1" cy="879.7" r="13.3"/>
<circle cx="1492.3" cy="216.3" r="13.3"/>
<circle cx="1482.5" cy="703.7" r="13.3"/>
<circle cx="1429.4" cy="511.2" r="13.3"/>
<circle cx="1433.5" cy="205.9" r="13.3"/>
<circle cx="1488.1" cy="934.7" r="13.3"/>
<circle cx="1483.0" cy="692.7" r="13.3"/>
<circle cx="1453.5" cy="203.9" r="13.3"/>
<circle cx="1498.4" cy="847.8" r="13.3"/>
<circle cx="1445.0" cy="185.0" r="13.3"/>
<circle cx="1462.8" cy="177.2" r="13.3"/>
<circle cx="1437.2" cy="363.0" r="13.3"/>
<circle cx="1480.7" cy="882.6" r="13.3"/>
<circle cx="1434.9" cy="127.5" r="13.3"/>
<circle cx="1442.5" cy="860.2" r="13.3"/>
<circle cx="1490.6" cy="635.1" r="13.3"/>
<circle cx="1468.8" cy="157.3" r="13.3"/>
<circle cx="1482.1" cy="601.6" r="13.3"/>
<circle cx="1488.0" cy="493.2" r="13.3"/>
<circle cx="1477.5" cy="597.8" r="13.3"/>
<circle cx="1444.0" cy="720.2" r="13.3"/>
<circle cx="1485.1" cy="681.3" r="13.3"/>
<circle cx="1437.3" cy="995.0" r="13.3"/>
<circle cx="1449.9" cy="224.1" r="13.3"/>
<circle cx="1464.5" cy="772.3" r="13.3"/>
<circle cx="1437.2" cy="441.7" r="13.3"/>
<circle cx="1436.5" cy="751.4" r="13.3"/>
<circle cx="1481.3" cy="834.8" r="13.3"/>
<circle cx="1488.6" cy="978.7" r="13.3"/>
<circle cx="1458.2" cy="307.2" r="13.3"/>
<circle cx="1459.8" cy="486.9" r="13.3"/>
<circle cx="1444.8" cy="888.6" r="13.3"/>
<circle cx="1470.6" cy="892.5" r="13.3"/>
<circle cx="1475.4" cy="402.4" r="13.3"/>
<circle cx="1504.4" cy="885.4" r="13.3"/>
<circle cx="1431.1" cy="436.2" r="13.3"/>
<circle cx="1502.3" cy="404.3" r="13.3"/>
<circle cx="1509.0" cy="733.2" r="13.3"/>
<circle cx="1456.2" cy="506.6" r="13.3"/>
<circle cx="1487.3" cy="481.7" r="13.3"/>
<circle cx="1495.4" cy="415.7" r="13.3"/>
<circle cx="1481.2" cy="465.1" r="13.3"/>
<circle cx="1451.5" cy="211.8" r="13.3"/>
<circle cx="1478.9" cy="152.5" r="13.3"/>
<circle cx="1499.7" cy="731.4" r="13.3"/>
<circle cx="1436.6" cy="598.2" r="13.3"/>
<circle cx="1467.2" cy="676.8" r="13.3"/>
<circle cx="1429.7" cy="764.8" r="13.3"/>
<circle cx="1497.1" cy="278.8" r="13.3"/>
<circle cx="1491.6" cy="281.7" r="13.3"/>
<circle cx="1431.6" cy="316.9" r="13.3"/>
<circle cx="1489.0" cy="338.7" r="13.3"/>
<circle cx="1484.5" cy="735.9" r="13.3"/>
<circle cx="1438.2" cy="403.7" r="13.3"/>
<circle cx="1470.9" cy="355.5" r="13.3"/>
<circle cx="1484.3" cy="652.7" r="13.3"/>
<circle cx="1455.3" cy="245.9" r="13.3"/>
<circle cx="1469.1" cy="187.4" r="13.3"/>
<circle cx="1507.8" cy="693.6" r="13.3"/>
<circle cx="1479.9" cy="733.1" r="13.3"/>
<circle cx="1469.0" cy="332.2" r="13.3"/>
<circle cx="1433.2" cy="652.5" r="13.3"/>
<circle cx="1437.7" cy="128.6" r="13.3"/>
<circle cx="1497.6" cy="434.5" r="13.3"/>
<circle cx="1488.7" cy="609.3" r="13.3"/>
<circle cx="1496.3" cy="297.1" r="13.3"/>
<circle cx="1475.2" cy="378.5" r="13.3"/>
<circle cx="1475.0" cy="633.6" r="13.3"/>
<circle cx="1471.3" cy="618.7" r="13.3"/>
<circle cx="1488.1" cy="222.3" r="13.3"/>
<circle cx="1454.9" cy="699.8" r="13.3"/>
<circle cx="1468.5" cy="167.5" r="13.3"/>
<circle cx="1466.3" cy="929.3" r="13.3"/>
<circle cx="1482.1" cy="257.7" r="13.3"/>
<circle cx="1445.5" cy="297.2" r="13.3"/>
<circle cx="1429.9" cy="256.1" r="13.3"/>
<circle cx="1435.1" cy="977.3" r="13.3"/>
<circle cx="1442.5" cy="324.0" r="13.3"/>
<circle cx="1498.1" cy="630.4" r="13.3"/>
<circle cx="1486.6" cy="974.9" r="13.3"/>
<circle cx="1489.3" cy="898.4" r="13.3"/>
<circle cx="1464.2" cy="136.4" r="13.3"/>
<circle cx="1436.2" cy="558.8" r="13.3"/>
<circle cx="1466.0" cy="627.4" r="13.3"/>
<circle cx="1498.6" cy="697.1" r="13.3"/>
<circle cx="1469.6" cy="367.0" r="13.3"/>
<circle cx="1479.6" cy="359.7" r="13.3"/>
<circle cx="1458.5" cy="92.7" r="13.3"/>
<circle cx="1440.1" cy="129.7" r="13.3"/>
<circle cx="1479.2" cy="585.8" r="13.3"/>
<circle cx="1467.6" cy="164.3" r="13.3"/>
<circle cx="1456.1" cy="257.8" r="13.3"/>
<circle cx="1449.0" cy="364.6" r="13.3"/>
<circle cx="1484.9" cy="160.1" r="13.3"/>
<circle cx="1453.9" cy="125.4" r="13.3"/>
<circle cx="1475.0" cy="869.7" r="13.3"/>
<circle cx="1449.1" cy="467.7" r="13.3"/>
<circle cx="1489.6" cy="259.6" r="13.3"/>
<circle cx="1458.5" cy="701.1" r="13.3"/>
<circle cx="1467.0" cy="100.3" r="13.3"/>
<circle cx="1503.9" cy="290.5" r="13.3"/>
<circle cx="1486.7" cy="914.2" r="13.3"/>
<circle cx="1488.2" cy="840.1" r="13.3"/>
<circle cx="1455.6" cy="652.4" r="13.3"/>
<circle cx="1496.7" cy="177.6" r="13.3"/>
<circle cx="1459.4" cy="350.9" r="13.3"/>
<circle cx="1508.8" cy="122.4" r="13.3"/>
<circle cx="1501.3" cy="270.4" r="13.3"/>
<circle cx="1481.8" cy="119.7" r="13.3"/>
<circle cx="1496.0" cy="201.9" r="13.3"/>
<circle cx="1472.4" cy="650.5" r="13.3"/>
<circle cx="1487.9" cy="183.0" r="13.3"/>
<circle cx="1438.0" cy="223.4" r="13.3"/>
<circle cx="1508.9" cy="844.9" r="13.3"/>
<circle cx="1493.4" cy="366.6" r="13.3"/>
<circle cx="1439.5" cy="364.3" r="13.3"/>
<circle cx="1447.7" cy="172.5" r="13.3"/>
<circle cx="1474.9" cy="760.3" r="13.3"/>
<circle cx="1490.3" cy="679.8" r="13.3"/>
<circle cx="1440.0" cy="583.2" r="13.3"/>
<circle cx="1506.6" cy="639.7" r="13.3"/>
<circle cx="1456.2" cy="183.0" r="13.3"/>
<circle cx="1509.4" cy="302.6" r="13.3"/>
<circle cx="1489.5" cy="613.8" r="13.3"/>
<circle cx="1467.6" cy="901.5" r="13.3"/>
<circle cx="1457.5" cy="775.4" r="13.3"/>
<circle cx="1435.7" cy="655.7" r="13.3"/>
<circle cx="1435.0" cy="556.5" r="13.3"/>
<circle cx="1479.4" cy="107.8" r="13.3"/>
<circle cx="1491.2" cy="833.8" r="13.3"/>
<circle cx="1502.2" cy="157.2" r="13.3"/>
<circle cx="1457.7" cy="204.0" r="13.3"/>
<circle cx="1504.7" cy="690.9" r="13.3"/>
<circle cx="1452.1" cy="771.8" r="13.3"/>
<circle cx="1504.9" cy="753.7" r="13.3"/>
<circle cx="1503.1" cy="486.3" r="13.3"/>
<circle cx="1440.5" cy="238.9" r="13.3"/>
<circle cx="1498.4" cy="129.8" r="13.3"/>
<circle cx="1485.5" cy="801.2" r="13.3"/>
<circle cx="1485.4" cy="944.5" r="13.3"/>
<circle cx="1496.7" cy="289.8" r="13.3"/>
<circle cx="1471.8" cy="812.9" r="13.3"/>
<circle cx="1469.4" cy="432.7" r="13.3"/>
<circle cx="1457.9" cy="345.1" r="13.3"/>
<circle cx="1498.8" cy="542.6" r="13.3"/>
<circle cx="1501.7" cy="98.5" r="13.3"/>
<circle cx="1441.0" cy="475.8" r="13.3"/>
<circle cx="1491.1" cy="255.6" r="13.3"/>
<circle cx="1450.4" cy="703.7" r="13.3"/>
<circle cx="1442.9" cy="540.0" r="13.3"/>
<circle cx="1444.0" cy="815.1" r="13.3"/>
<circle cx="1474.8" cy="839.2" r="13.3"/>
<circle cx="1450.7" cy="349.8" r="13.3"/>
<circle cx="1447.7" cy="318.9" r="13.3"/>
<circle cx="1435.9" cy="884.0" r="13.3"/>
<circle cx="1454.4" cy="541.4" r="13.3"/>
<circle cx="1491.3" cy="180.1" r="13.3"/>
<circle cx="1429.6" cy="139.6" r="13.3"/>
<circle cx="1467.4" cy="974.4" r="13.3"/>
<circle cx="1477.2" cy="610.3" r="13.3"/>
<circle cx="1431.9" cy="147.0" r="13.3"/>
<circle cx="1451.9" cy="548.9" r="13.3"/>
<circle cx="1502.1" cy="541.5" r="13.3"/>
<circle cx="1509.3" cy="467.9" r="13.3"/>
<circle cx="1497.5" cy="900.1" r="13.3"/>
<circle cx="1441.7" cy="896.6" r="13.3"/>
<circle cx="1490.5" cy="201.0" r="13.3"/>
<circle cx="1464.8" cy="220.5" r="13.3"/>
<circle cx="1441.8" cy="437.9" r="13.3"/>
<circle cx="1467.2" cy="787.9" r="13.3"/>
<circle cx="1503.5" cy="643.8" r="13.3"/>
<circle cx="1499.7" cy="715.2" r="13.3"/>
<circle cx="1459.9" cy="607.8" r="13.3"/>
<circle cx="1433.0" cy="263.5" r="13.3"/>
<circle cx="1501.6" cy="775.9" r="13.3"/>
<circle cx="1508.7" cy="106.4" r="13.3"/>
<circle cx="1469.7" cy="694.5" r="13.3"/>
<circle cx="1446.3" cy="251.7" r="13.3"/>
<circle cx="1472.4" cy="506.5" r="13.3"/>
<circle cx="1484.9" cy="939.4" r="13.3"/>
<circle cx="1467.3" cy="575.8" r="13.3"/>
<circle cx="1456.7" cy="149.1" r="13.3"/>
<circle cx="1448.1" cy="460.7" r="13.3"/>
<circle cx="1452.1" cy="669.0" r="13.3"/>
<circle cx="1431.9" cy="148.9" r="13.3"/>
<circle cx="1448.7" cy="296.5" r="13.3"/>
<circle cx="1506.0" cy="111.7" r="13.3"/>
<circle cx="1428.5" cy="576.8" r="13.3"/>
<circle cx="1487.5" cy="411.0" r="13.3"/>
<circle cx="1492.5" cy="541.1" r="13.3"/>
<circle cx="1461.0" cy="331.8" r="13.3"/>
<circle cx="1476.6" cy="666.7" r="13.3"/>
<circle cx="1445.9" cy="236.0" r="13.3"/>
<circle cx="1482.6" cy="848.6" r="13.3"/>
<circle cx="1485.8" cy="913.2" r="13.3"/>
<circle cx="1488.0" cy="529.9" r="13.3"/>
<circle cx="1468.1" cy="500.3" r="13.3"/>
<circle cx="1507.4" cy="807.7" r="13.3"/>
<circle cx="1498.8" cy="326.7" r="13.3"/>
<circle cx="1474.7" cy="765.4" r="13.3"/>
<circle cx="1483.8" cy="324.6" r="13.3"/>
<circle cx="1450.3" cy="708.7" r="13.3"/>
<circle cx="1505.2" cy="365.3" r="13.3"/>
<circle cx="1480.7" cy="628.4" r="13.3"/>
<circle cx="1501.2" cy="868.5" r="13.3"/>
<circle cx="1451.5" cy="146.9" r="13.3"/>
<circle cx="1508.4" cy="768.3" r="13.3"/>
<circle cx="1436.4" cy="578.4" r="13.3"/>
<circle cx="1471.3" cy="408.6" r="13.3"/>
<circle cx="1436.9" cy="380.4" r="13.3"/>
<circle cx="1443.4" cy="159.2" r="13.3"/>
<circle cx="1490.5" cy="301.0" r="13.3"/>
<circle cx="1433.2" cy="643.4" r="13.3"/>
<circle cx="1459.2" cy="180.9" r="13.3"/>
<circle cx="1443.5" cy="675.2" r="13.3"/>
<circle cx="1497.5" cy="916.6" r="13.3"/>
<circle cx="1434.6" cy="951.0" r="13.3"/>
<circle cx="1455.4" cy="832.5" r="13.3"/>
<circle cx="1498.0" cy="767.9" r="13.3"/>
<circle cx="1484.1" cy="239.6" r="13.3"/>
<circle cx="1485.5" cy="930.1" r="13.3"/>
<circle cx="1509.1" cy="258.0" r="13.3"/>
<circle cx="1429.7" cy="815.3" r="13.3"/>
<circle cx="1482.3" cy="822.7" r="13.3"/>
<circle cx="1488.9" cy="642.5" r="13.3"/>
<circle cx="1489.2" cy="558.9" r="13.3"/>
<circle cx="1486.3" cy="256.2" r="13.3"/>
<circle cx="1433.7" cy="557.1" r="13.3"/>
<circle cx="1434.7" cy="327.4" r="13.3"/>
<circle cx="1491.2" cy="201.7" r="13.3"/>
<circle cx="1478.0" cy="203.4" r="13.3"/>
<circle cx="1449.3" cy="764.0" r="13.3"/>
<circle cx="1428.6" cy="864.7" r="13.3"/>
<circle cx="1471.5" cy="213.3" r="13.3"/>
<circle cx="1435.2" cy="105.4" r="13.3"/>
<circle cx="1489.2" cy="305.3" r="13.3"/>
<circle cx="1455.7" cy="207.9" r="13.3"/>
<circle cx="1494.0" cy="247.5" r="13.3"/>
<circle cx="1435.6" cy="613.6" r="13.3"/>
<circle cx="1468.3" cy="453.7" r="13.3"/>
<circle cx="1436.0" cy="461.2" r="13.3"/>
<circle cx="1491.8" cy="260.1" r="13.3"/>
<circle cx="1473.7" cy="671.9" r="13.3"/>
<circle cx="1447.0" cy="326.5" r="13.3"/>
<circle cx="1506.8" cy="429.1" r="13.3"/>
<circle cx="1483.7" cy="498.2" r="13.3"/>
<circle cx="1455.4" cy="846.5" r="13.3"/>
<circle cx="1497.9" cy="291.5" r="13.3"/>
<circle cx="1459.0" cy="707.8" r="13.3"/>
<circle cx="1505.1" cy="343.4" r="13.3"/>
<circle cx="1452.2" cy="837.2" r="13.3"/>
<circle cx="1508.5" cy="423.9" r="13.3"/>
<circle cx="1432.9" cy="542.6" r="13.3"/>
<circle cx="1488.0" cy="822.1" r="13.3"/>
<circle cx="1451.7" cy="677.4" r="13.3"/>
<circle cx="1462.6" cy="178.5" r="13.3"/>
<circle cx="1480.0" cy="209.7" r="13.3"/>
<circle cx="1431.6" cy="975.2" r="13.3"/>
<circle cx="1446.1" cy="123.6" r="13.3"/>
<circle cx="1436.3" cy="336.1" r="13.3"/>
<circle cx="1488.5" cy="911.3" r="13.3"/>
<circle cx="1445.9" cy="107.7" r="13.3"/>
<circle cx="1468.7" cy="227.5" r="13.3"/>
<circle cx="1454.7" cy="266.0" r="13.3"/>
<circle cx="1447.2" cy="172.4" r="13.3"/>
<circle cx="1504.5" cy="507.4" r="13.3"/>
<circle cx="1469.4" cy="620.7" r="13.3"/>
<circle cx="1481.1" cy="351.2" r="13.3"/>
<circle cx="1485.6" cy="189.1" r="13.3"/>
<circle cx="1495.1" cy="771.0" r="13.3"/>
<circle cx="1449.4" cy="766.3" r="13.3"/>
<circle cx="1434.2" cy="596.2" r="13.3"/>
<circle cx="1466.1" cy="210.3" r="13.3"/>
<circle cx="1441.7" cy="578.4" r="13.3"/>
<circle cx="1429.5" cy="647.9" r="13.3"/>
<circle cx="1503.2" cy="460.2" r="13.3"/>
<circle cx="1479.2" cy="811.1" r="13.3"/>
<circle cx="1461.8" cy="419.7" r="13.3"/>
<circle cx="1439.0" cy="548.5" r="13.3"/>
<circle cx="1490.2" cy="193.1" r="13.3"/>
<circle cx="1471.5" cy="597.4" r="13.3"/>
<circle cx="1442.1" cy="739.9" r="13.3"/>
<circle cx="1508.3" cy="716.2" r="13.3"/>
<circle cx="1505.8" cy="299.9" r="13.3"/>
<circle cx="1503.8" cy="978.4" r="13.3"/>
<circle cx="1495.6" cy="708.7" r="13.3"/>
<circle cx="1471.4" cy="455.3" r="13.3"/>
<circle cx="1452.4" cy="445.8" r="13.3"/>
<circle cx="1481.2" cy="748.7" r="13.3"/>
<circle cx="1440.2" cy="237.9" r="13.3"/>
<circle cx="1478.4" cy="655.0" r="13.3"/>
<circle cx="1433.2" cy="707.9" r="13.3"/>
<circle cx="1428.9" cy="554.0" r="13.3"/>
<circle cx="1486.5" cy="818.7" r="13.3"/>
<circle cx="1455.9" cy="503.8" r="13.3"/>
<circle cx="1485.0" cy="499.8" r="13.3"/>
<circle cx="1491.8" cy="322.4" r="13.3"/>
<circle cx="1496.3" cy="861.5" r="13.3"/>
<circle cx="1478.3" cy="349.4" r="13.3"/>
<circle cx="1497.2" cy="692.4" r="13.3"/>
<circle cx="1481.8" cy="439.9" r="13.3"/>
<circle cx="1503.8" cy="879.5" r="13.3"/>
<circle cx="1501.3" cy="895.5" r="13.3"/>
<circle cx="1431.3" cy="124.5" r="13.3"/>
<circle cx="1449.7" cy="986.2" r="13.3"/>
<circle cx="1459.7" cy="630.2" r="13.3"/>
<circle cx="1448.5" cy="162.7" r="13.3"/>
<circle cx="1442.3" cy="534.2" r="13.3"/>
<circle cx="1499.4" cy="142.7" r="13.3"/>
<circle cx="1429.9" cy="584.7" r="13.3"/>
<circle cx="1442.7" cy="245.1" r="13.3"/>
<circle cx="1490.1" cy="397.5" r="13.3"/>
<circle cx="1446.1" cy="339.3" r="13.3"/>
<circle cx="1449.0" cy="628.1" r="13.3"/>
<circle cx="1507.1" cy="779.3" r="13.3"/>
<circle cx="1490.3" cy="880.8" r="13.3"/>
<circle cx="1464.6" cy="360.6" r="13.3"/>
<circle cx="1439.0" cy="602.5" r="13.3"/>
<circle cx="1449.9" cy="95.2" r="13.3"/>
<circle cx="1508.3" cy="401.7" r="13.3"/>
<circle cx="1492.7" cy="914.1" r="13.3"/>
<circle cx="1433.5" cy="196.6" r="13.3"/>
<circle cx="1485.8" cy="815.9" r="13.3"/>
<circle cx="1458.6" cy="663.8" r="13.3"/>
<circle cx="1486.8" cy="330.1" r="13.3"/>
<circle cx="1452.0" cy="747.9" r="13.3"/>
<circle cx="1438.5" cy="326.3" r="13.3"/>
<circle cx="1429.4" cy="837.5" r="13.3"/>
<circle cx="1452.0" cy="169.7" r="13.3"/>
<circle cx="1498.3" cy="196.7" r="13.3"/>
<circle cx="1500.9" cy="728.7" r="13.3"/>
<circle cx="1483.8" cy="482.8" r="13.3"/>
<circle cx="1489.1" cy="217.4" r="13.3"/>
<circle cx="1443.8" cy="551.1" r="13.3"/>
<circle cx="1456.8" cy="332.7" r="13.3"/>
<circle cx="1501.5" cy="585.1" r="13.3"/>
<circle cx="1508.7" cy="724.5" r="13.3"/>
<circle cx="1464.1" cy="805.5" r="13.3"/>
<circle cx="1491.4" cy="150.8" r="13.3"/>
<circle cx="1504.3" cy="620.6" r="13.3"/>
<circle cx="1509.6" cy="957.5" r="13.3"/>
<circle cx="1452.1" cy="494.3" r="13.3"/>
<circle cx="1481.4" cy="742.0" r="13.3"/>
<circle cx="1459.8" cy="180.6" r="13.3"/>
<circle cx="1465.9" cy="819.0" r="13.3"/>
<circle cx="1465.7" cy="612.6" r="13.3"/>
<circle cx="1450.6" cy="831.6" r="13.3"/>
<circle cx="1429.4" cy="754.1" r="13.3"/>
<circle cx="1490.7" cy="815.4" r="13.3"/>
<circle cx="1484.9" cy="149.4" r="13.3"/>
<circle cx="1496.7" cy="705.7" r="13.3"/>
<circle cx="1440.4" cy="253.7" r="13.3"/>
<circle cx="1447.2" cy="307.0" r="13.3"/>
<circle cx="1476.7" cy="356.9" r="13.3"/>
<circle cx="1504.6" cy="619.8" r="13.3"/>
<circle cx="1466.5" cy="646.7" r="13.3"/>
<circle cx="1444.3" cy="874.8" r="13.3"/>
<circle cx="1476.6" cy="104.7" r="13.3"/>
<circle cx="1506.3" cy="251.0" r="13.3"/>
<circle cx="1499.0" cy="391.7" r="13.3"/>
<circle cx="1501.5" cy="776.1" r="13.3"/>
<circle cx="1461.5" cy="585.6" r="13.3"/>
<circle cx="1449.3" cy="549.6" r="13.3"/>
<circle cx="1499.2" cy="735.6" r="13.3"/>
<circle cx="1492.4" cy="665.5" r="13.3"/>
<circle cx="1497.6" cy="326.8" r="13.3"/>
<circle cx="1459.9" cy="173.0" r="13.3"/>
<circle cx="1451.3" cy="497.0" r="13.3"/>
<circle cx="1447.5" cy="824.6" r="13.3"/>
<circle cx="1499.2" cy="625.0" r="13.3"/>
<circle cx="1503.2" cy="146.0" r="13.3"/>
<circle cx="1457.9" cy="472.9" r="13.3"/>
<circle cx="1499.5" cy="414.2" r="13.3"/>
<circle cx="1459.1" cy="612.9" r="13.3"/>
<circle cx="1464.5" cy="616.6" r="13.3"/>
<circle cx="1474.3" cy="900.2" r="13.3"/>
<circle cx="1445.9" cy="369.0" r="13.3"/>
<circle cx="1449.7" cy="438.5" r="13.3"/>
<circle cx="1449.7" cy="636.5" r="13.3"/>
<circle cx="1449.1" cy="830.0" r="13.3"/>
<circle cx="1470.1" cy="699.5" r="13.3"/>
<circle cx="1436.0" cy="506.3" r="13.3"/>
<circle cx="1491.8" cy="773.6" r="13.3"/>
<circle cx="1442.1" cy="521.7" r="13.3"/>
<circle cx="1464.2" cy="918.7" r="13.3"/>
<circle cx="1480.4" cy="320.6" r="13.3"/>
<circle cx="1439.1" cy="202.8" r="13.3"/>
<circle cx="1461.4" cy="785.2" r="13.3"/>
<circle cx="1474.0" cy="333.0" r="13.3"/>
<circle cx="1472.9" cy="798.1" r="13.3"/>
<circle cx="1501.0" cy="633.5" r="13.3"/>
<circle cx="1492.2" cy="546.5" r="13.3"/>
<circle cx="1437.7" cy="172.9" r="13.3"/>
<circle cx="1496.1" cy="753.5" r="13.3"/>
<circle cx="1472.9" cy="156.4" r="13.3"/>
<circle cx="1483.4" cy="921.4" r="13.3"/>
<circle cx="1440.9" cy="821.9" r="13.3"/>
<circle cx="1466.5" cy="337.9" r="13.3"/>
<circle cx="1485.2" cy="203.1" r="13.3"/>
<circle cx="1493.2" cy="829.4" r="13.3"/>
<circle cx="1493.9" cy="515.9" r="13.3"/>
<circle cx="1445.6" cy="201.0" r="13.3"/>
<circle cx="1496.1" cy="535.7" r="13.3"/>
<circle cx="1474.4" cy="291.9" r="13.3"/>
<circle cx="1482.6" cy="438.3" r="13.3"/>
<circle cx="1497.6" cy="655.4" r="13.3"/>
<circle cx="1461.0" cy="857.3" r="13.3"/>
<circle cx="1503.2" cy="763.8" r="13.3"/>
<circle cx="1500.1" cy="227.2" r="13.3"/>
<circle cx="1494.0" cy="513.2" r="13.3"/>
<circle cx="1459.0" cy="528.8" r="13.3"/>
<circle cx="1471.1" cy="971.9" r="13.3"/>
<circle cx="1442.0" cy="172.8" r="13.3"/>
<circle cx="1490.1" cy="548.4" r="13.3"/>
<circle cx="1500.9" cy="856.3" r="13.3"/>
<circle cx="1441.0" cy="428.8" r="13.3"/>
<circle cx="1488.9" cy="303.7" r="13.3"/>
<circle cx="1484.7" cy="590.9" r="13.3"/>
<circle cx="1430.8" cy="352.7" r="13.3"/>
<circle cx="1503.0" cy="869.8" r="13.3"/>
<circle cx="1467.1" cy="171.2" r="13.3"/>
<circle cx="1449.9" cy="261.0" r="13.3"/>
<circle cx="1430.3" cy="170.5" r="13.3"/>
<circle cx="1491.9" cy="703.3" r="13.3"/>
<circle cx="1455.5" cy="329.5" r="13.3"/>
<circle cx="1469.9" cy="842.4" r="13.3"/>
<circle cx="1443.8" cy="836.4" r="13.3"/>
<circle cx="1477.6" cy="880.7" r="13.3"/>
<circle cx="1460.4" cy="299.3" r="13.3"/>
<circle cx="1493.9" cy="86.9" r="13.3"/>
<circle cx="1482.4" cy="417.2" r="13.3"/>
<circle cx="1487.0" cy="917.1" r="13.3"/>
<circle cx="1448.4" cy="738.0" r="13.3"/>
<circle cx="1433.0" cy="151.3" r="13.3"/>
<circle cx="1500.0" cy="697.2" r="13.3"/>
<circle cx="1504.5" cy="859.1" r="13.3"/>
<circle cx="1480.6" cy="925.8" r="13.3"/>
<circle cx="1503.4" cy="706.1" r="13.3"/>
<circle cx="1485.7" cy="810.4" r="13.3"/>
<circle cx="1477.5" cy="793.7" r="13.3"/>
<circle cx="1462.2" cy="388.1" r="13.3"/>
<circle cx="1457.0" cy="182.0" r="13.3"/>
<circle cx="1468.0" cy="713.7" r="13.3"/>
<circle cx="1446.0" cy="209.7" r="13.3"/>
<circle cx="1462.9" cy="413.8" r="13.3"/>
<circle cx="1469.4" cy="990.0" r="13.3"/>
<circle cx="1430.4" cy="594.2" r="13.3"/>
<circle cx="1460.1" cy="559.4" r="13.3"/>
<circle cx="1451.1" cy="895.4" r="13.3"/>
<circle cx="1479.8" cy="321.9" r="13.3"/>
<circle cx="1494.4" cy="1002.8" r="13.3"/>
<circle cx="1478.2" cy="853.9" r="13.3"/>
<circle cx="1482.2" cy="393.6" r="13.3"/>
<circle cx="1478.1" cy="359.1" r="13.3"/>
<circle cx="1448.8" cy="202.2" r="13.3"/>
<circle cx="1458.7" cy="857.6" r="13.3"/>
<circle cx="1497.0" cy="245.4" r="13.3"/>
<circle cx="1505.4" cy="99.6" r="13.3"/>
<circle cx="1442.7" cy="833.2" r="13.3"/>
<circle cx="1428.7" cy="625.0" r="13.3"/>
<circle cx="1506.6" cy="676.8" r="13.3"/>
<circle cx="1498.3" cy="717.4" r="13.3"/>
<circle cx="1477.6" cy="136.7" r="13.3"/>
<circle cx="1494.8" cy="176.6" r="13.3"/>
<circle cx="1476.5" cy="537.1" r="13.3"/>
<circle cx="1502.0" cy="143.4" r="13.3"/>
<circle cx="1447.8" cy="541.8" r="13.3"/>
<circle cx="1464.2" cy="719.6" r="13.3"/>
<circle cx="1482.8" cy="667.1" r="13.3"/>
<circle cx="1445.5" cy="638.7" r="13.3"/>
<circle cx="1486.4" cy="140.0" r="13.3"/>
<circle cx="1449.3" cy="283.9" r="13.3"/>
<circle cx="1486.0" cy="840.0" r="13.3"/>
<circle cx="1493.7" cy="199.8" r="13.3"/>
<circle cx="1462.6" cy="570.4" r="13.3"/>
<circle cx="1509.0" cy="143.2" r="13.3"/>
<circle cx="1479.6" cy="884.1" r="13.3"/>
<circle cx="1489.8" cy="234.9" r="13.3"/>
<circle cx="1429.5" cy="440.6" r="13.3"/>
<circle cx="1437.1" cy="582.8" r="13.3"/>
<circle cx="1486.1" cy="707.8" r="13.3"/>
<circle cx="1505.1" cy="882.0" r="13.3"/>
<circle cx="1479.3" cy="719.6" r="13.3"/>
<circle cx="1502.7" cy="377.7" r="13.3"/>
<circle cx="1432.7" cy="163.9" r="13.3"/>
<circle cx="1500.9" cy="700.4" r="13.3"/>
<circle cx="1499.7" cy="934.4" r="13.3"/>
<circle cx="1479.4" cy="110.1" r="13.3"/>
<circle cx="1463.0" cy="745.5" r="13.3"/>
<circle cx="1485.6" cy="238.3" r="13.3"/>
<circle cx="1447.8" cy="494.5" r="13.3"/>
<circle cx="1482.5" cy="560.3" r="13.3"/>
<circle cx="1484.7" cy="637.1" r="13.3"/>
<circle cx="1472.1" cy="972.0" r="13.3"/>
<circle cx="1449.1" cy="687.2" r="13.3"/>
<circle cx="1428.0" cy="422.1" r="13.3"/>
<circle cx="1443.9" cy="705.4" r="13.3"/>
<circle cx="1496.2" cy="501.8" r="13.3"/>
<circle cx="1445.2" cy="443.9" r="13.3"/>
<circle cx="1433.9" cy="395.3" r="13.3"/>
<circle cx="1448.0" cy="530.3" r="13.3"/>
<circle cx="1470.4" cy="319.5" r="13.3"/>
<circle cx="1475.9" cy="288.2" r="13.3"/>
<circle cx="1499.7" cy="218.1" r="13.3"/>
<circle cx="1497.9" cy="473.1" r="13.3"/>
<circle cx="1507.2" cy="329.6" r="13.3"/>
<circle cx="1500.3" cy="790.1" r="13.3"/>
<circle cx="1464.7" cy="798.5" r="13.3"/>
<circle cx="1439.4" cy="374.4" r="13.3"/>
<circle cx="1506.2" cy="640.5" r="13.3"/>
<circle cx="1446.6" cy="844.4" r="13.3"/>
<circle cx="1478.8" cy="388.9" r="13.3"/>
<circle cx="1449.5" cy="589.8" r="13.3"/>
<circle cx="1494.8" cy="476.7" r="13.3"/>
<circle cx="1444.3" cy="662.3" r="13.3"/>
<circle cx="1462.3" cy="912.7" r="13.3"/>
<circle cx="1445.8" cy="211.0" r="13.3"/>
<circle cx="1498.4" cy="921.8" r="13.3"/>
<circle cx="1478.6" cy="672.7" r="13.3"/>
<circle cx="1479.5" cy="760.2" r="13.3"/>
<circle cx="1453.6" cy="651.8" r="13.3"/>
<circle cx="1442.3" cy="816.3" r="13.3"/>
<circle cx="1498.1" cy="358.2" r="13.3"/>
<circle cx="1490.5" cy="700.8" r="13.3"/>
<circle cx="1488.0" cy="305.6" r="13.3"/>
<circle cx="1509.6" cy="546.2" r="13.3"/>
<circle cx="1473.7" cy="683.2" r="13.3"/>
<circle cx="1442.4" cy="256.8" r="13.3"/>
<circle cx="1477.8" cy="152.6" r="13.3"/>
<circle cx="1451.4" cy="756.8" r="13.3"/>
<circle cx="1469.9" cy="769.5" r="13.3"/>
<circle cx="1465.5" cy="672.7" r="13.3"/>
<circle cx="1474.0" cy="353.9" r="13.3"/>
<circle cx="1503.4" cy="667.6" r="13.3"/>
<circle cx="1494.2" cy="170.5" r="13.3"/>
<circle cx="1461.8" cy="670.5" r="13.3"/>
<circle cx="1494.8" cy="607.9" r="13.3"/>
<circle cx="1498.4" cy="639.1" r="13.3"/>
<circle cx="1491.3" cy="480.4" r="13.3"/>
<circle cx="1473.0" cy="275.0" r="13.3"/>
<circle cx="1501.5" cy="712.6" r="13.3"/>
<circle cx="1468.1" cy="499.0" r="13.3"/>
<circle cx="1436.5" cy="725.6" r="13.3"/>
<circle cx="1450.1" cy="393.8" r="13.3"/>
<circle cx="1481.7" cy="173.5" r="13.3"/>
<circle cx="1458.9" cy="578.9" r="13.3"/>
<circle cx="1462.5" cy="643.1" r="13.3"/>
<circle cx="1460.8" cy="864.0" r="13.3"/>
<circle cx="1443.5" cy="831.2" r="13.3"/>
<circle cx="1435.5" cy="149.2" r="13.3"/>
<circle cx="1431.8" cy="743.5" r="13.3"/>
<circle cx="1482.9" cy="303.4" r="13.3"/>
<circle cx="1454.4" cy="693.6" r="13.3"/>
<circle cx="1465.3" cy="409.0" r="13.3"/>
<circle cx="1504.5" cy="354.5" r="13.3"/>
<circle cx="1479.2" cy="524.9" r="13.3"/>
<circle cx="1494.3" cy="567.9" r="13.3"/>
<circle cx="1490.3" cy="691.8" r="13.3"/>
<circle cx="1506.0" cy="653.8" r="13.3"/>
<circle cx="1433.3" cy="681.1" r="13.3"/>
<circle cx="1459.3" cy="413.6" r="13.3"/>
<circle cx="1505.7" cy="680.5" r="13.3"/>
<circle cx="1465.9" cy="375.8" r="13.3"/>
<circle cx="1505.5" cy="632.1" r="13.3"/>
<circle cx="1443.0" cy="494.0" r="13.3"/>
<circle cx="1432.7" cy="596.8" r="13.3"/>
<circle cx="1501.2" cy="110.7" r="13.3"/>
<circle cx="1461.5" cy="536.0" r="13.3"/>
<circle cx="1469.5" cy="271.0" r="13.3"/>
<circle cx="1504.6" cy="415.4" r="13.3"/>
<circle cx="1445.8" cy="162.7" r="13.3"/>
<circle cx="1507.2" cy="666.8" r="13.3"/>
<circle cx="1460.3" cy="836.3" r="13.3"/>
<circle cx="1448.1" cy="384.5" r="13.3"/>
<circle cx="1447.0" cy="186.5" r="13.3"/>
<circle cx="1470.3" cy="641.3" r="13.3"/>
<circle cx="1466.1" cy="202.5" r="13.3"/>
<circle cx="1500.5" cy="834.6" r="13.3"/>
<circle cx="1432.0" cy="199.2" r="13.3"/>
<circle cx="1431.4" cy="391.6" r="13.3"/>
<circle cx="1440.3" cy="531.7" r="13.3"/>
<circle cx="1477.5" cy="195.9" r="13.3"/>
<circle cx="1491.9" cy="351.6" r="13.3"/>
<circle cx="1467.1" cy="314.7" r="13.3"/>
<circle cx="1478.1" cy="704.3" r="13.3"/>
<circle cx="1480.5" cy="963.7" r="13.3"/>
<circle cx="1429.4" cy="392.5" r="13.3"/>
<circle cx="1448.0" cy="756.6" r="13.3"/>
<circle cx="1509.6" cy="212.2" r="13.3"/>
<circle cx="1454.9" cy="610.9" r="13.3"/>
<circle cx="1505.4" cy="465.0" r="13.3"/>
<circle cx="1468.2" cy="325.4" r="13.3"/>
<circle cx="1446.0" cy="778.8" r="13.3"/>
<circle cx="1428.0" cy="726.3" r="13.3"/>
<circle cx="1445.6" cy="207.6" r="13.3"/>
<circle cx="1454.2" cy="328.9" r="13.3"/>
<circle cx="1463.8" cy="777.2" r="13.3"/>
<circle cx="1464.5" cy="980.0" r="13.3"/>
<circle cx="1472.8" cy="635.0" r="13.3"/>
<circle cx="1466.7" cy="817.5" r="13.3"/>
<circle cx="1430.5" cy="958.8" r="13.3"/>
<circle cx="1449.7" cy="722.4" r="13.3"/>
<circle cx="1506.7" cy="658.5" r="13.3"/>
<circle cx="1430.0" cy="272.0" r="13.3"/>
<circle cx="1488.0" cy="400.0" r="13.3"/>
<circle cx="1466.9" cy="643.7" r="13.3"/>
<circle cx="1485.8" cy="869.1" r="13.3"/>
<circle cx="1455.1" cy="336.9" r="13.3"/>
<circle cx="1458.2" cy="425.0" r="13.3"/>
<circle cx="1470.2" cy="116.2" r="13.3"/>
<circle cx="1502.4" cy="693.3" r="13.3"/>
<circle cx="1454.7" cy="476.7" r="13.3"/>
<circle cx="1434.8" cy="761.5" r="13.3"/>
<circle cx="1430.9" cy="281.6" r="13.3"/>
<circle cx="1500.1" cy="668.6" r="13.3"/>
<circle cx="1453.5" cy="677.6" r="13.3"/>
<circle cx="1437.6" cy="499.2" r="13.3"/>
<circle cx="1476.7" cy="247.5" r="13.3"/>
<circle cx="1497.1" cy="433.0" r="13.3"/>
<circle cx="1477.0" cy="725.4" r="13.3"/>
<circle cx="1440.2" cy="247.9" r="13.3"/>
<circle cx="1461.1" cy="175.2" r="13.3"/>
<circle cx="1449.7" cy="497.5" r="13.3"/>
<circle cx="1429.2" cy="282.2" r="13.3"/>
<circle cx="1507.0" cy="763.5" r="13.3"/>
<circle cx="1465.5" cy="775.5" r="13.3"/>
<circle cx="1438.8" cy="891.9" r="13.3"/>
<circle cx="1500.4" cy="792.3" r="13.3"/>
<circle cx="1508.6" cy="660.3" r="13.3"/>
<circle cx="1494.7" cy="246.3" r="13.3"/>
<circle cx="1448.6" cy="779.7" r="13.3"/>
<circle cx="1443.4" cy="714.1" r="13.3"/>
<circle cx="1470.9" cy="726.6" r="13.3"/>
<circle cx="1475.6" cy="693.8" r="13.3"/>
<circle cx="1499.8" cy="784.9" r="13.3"/>
<circle cx="1507.1" cy="333.5" r="13.3"/>
<circle cx="1502.5" cy="677.2" r="13.3"/>
<circle cx="1455.9" cy="555.0" r="13.3"/>
<circle cx="1475.8" cy="368.8" r="13.3"/>
<circle cx="1438.0" cy="358.8" r="13.3"/>
<circle cx="1470.3" cy="223.2" r="13.3"/>
<circle cx="1433.6" cy="528.4" r="13.3"/>
<circle cx="1436.9" cy="398.3" r="13.3"/>
<circle cx="1437.8" cy="452.9" r="13.3"/>
<circle cx="1452.5" cy="801.4" r="13.3"/>
<circle cx="1453.2" cy="683.2" r="13.3"/>
<circle cx="1485.6" cy="682.4" r="13.3"/>
<circle cx="1434.0" cy="958.4" r="13.3"/>
<circle cx="1436.9" cy="269.4" r="13.3"/>
<circle cx="1481.6" cy="545.5" r="13.3"/>
<circle cx="1483.0" cy="177.1" r="13.3"/>
<circle cx="1486.1" cy="422.5" r="13.3"/>
<circle cx="1486.9" cy="898.8" r="13.3"/>
<circle cx="1482.2" cy="172.1" r="13.3"/>
<circle cx="1473.1" cy="733.9" r="13.3"/>
<circle cx="1488.6" cy="812.3" r="13.3"/>
<circle cx="1434.5" cy="546.5" r="13.3"/>
<circle cx="1445.2" cy="761.5" r="13.3"/>
<circle cx="1488.6" cy="474.0" r="13.3"/>
<circle cx="1443.6" cy="383.4" r="13.3"/>
<circle cx="1471.3" cy="543.2" r="13.3"/>
<circle cx="1449.1" cy="252.0" r="13.3"/>
<circle cx="1463.2" cy="341.7" r="13.3"/>
<circle cx="1496.2" cy="339.9" r="13.3"/>
<circle cx="1482.0" cy="969.1" r="13.3"/>
<circle cx="1464.3" cy="366.3" r="13.3"/>
<circle cx="1450.2" cy="277.9" r="13.3"/>
<circle cx="1493.8" cy="884.8" r="13.3"/>
<circle cx="1481.7" cy="210.9" r="13.3"/>
<circle cx="1463.9" cy="922.5" r="13.3"/>
<circle cx="1499.1" cy="802.7" r="13.3"/>
<circle cx="1484.6" cy="660.1" r="13.3"/>
<circle cx="1508.2" cy="459.7" r="13.3"/>
<circle cx="1482.3" cy="253.9" r="13.3"/>
<circle cx="1501.6" cy="187.3" r="13.3"/>
<circle cx="1472.9" cy="185.4" r="13.3"/>
<circle cx="1486.0" cy="379.3" r="13.3"/>
<circle cx="1496.9" cy="437.5" r="13.3"/>
<circle cx="1435.2" cy="866.1" r="13.3"/>
<circle cx="1466.7" cy="573.2" r="13.3"/>
<circle cx="1477.5" cy="974.9" r="13.3"/>
<circle cx="1432.5" cy="709.3" r="13.3"/>
<circle cx="1492.5" cy="216.5" r="13.3"/>
<circle cx="1486.5" cy="588.8" r="13.3"/>
<circle cx="1504.6" cy="226.0" r="13.3"/>
<circle cx="1458.3" cy="133.5" r="13.3"/>
<circle cx="1466.3" cy="890.0" r="13.3"/>
<circle cx="1502.6" cy="368.8" r="13.3"/>
<circle cx="1461.5" cy="248.2" r="13.3"/>
<circle cx="1496.2" cy="184.0" r="13.3"/>
<circle cx="1462.4" cy="663.5" r="13.3"/>
<circle cx="1455.5" cy="495.7" r="13.3"/>
<circle cx="1450.5" cy="103.3" r="13.3"/>
<circle cx="1445.3" cy="705.5" r="13.3"/>
<circle cx="1463.2" cy="299.7" r="13.3"/>
<circle cx="1441.0" cy="749.5" r="13.3"/>
<circle cx="1495.7" cy="525.3" r="13.3"/>
<circle cx="1507.7" cy="572.6" r="13.3"/>
<circle cx="1435.8" cy="491.5" r="13.3"/>
<circle cx="1432.3" cy="679.6" r="13.3"/>
<circle cx="1428.1" cy="973.4" r="13.3"/>
<circle cx="1504.2" cy="761.6" r="13.3"/>
<circle cx="1433.9" cy="159.0" r="13.3"/>
<circle cx="1483.6" cy="531.8" r="13.3"/>
<circle cx="1452.7" cy="282.1" r="13.3"/>
<circle cx="1444.1" cy="184.5" r="13.3"/>
<circle cx="1448.0" cy="252.3" r="13.3"/>
<circle cx="1484.4" cy="292.9" r="13.3"/>
<circle cx="1429.3" cy="912.6" r="13.3"/>
<circle cx="1498.7" cy="725.3" r="13.3"/>
<circle cx="1474.4" cy="802.4" r="13.3"/>
<circle cx="1447.1" cy="694.7" r="13.3"/>
<circle cx="1444.9" cy="348.8" r="13.3"/>
<circle cx="1481.5" cy="420.8" r="13.3"/>
<circle cx="1479.4" cy="473.6" r="13.3"/>
<circle cx="1453.9" cy="329.7" r="13.3"/>
<circle cx="1455.2" cy="452.8" r="13.3"/>
<circle cx="1465.8" cy="743.1" r="13.3"/>
<circle cx="1502.5" cy="164.2" r="13.3"/>
<circle cx="1471.9" cy="315.8" r="13.3"/>
<circle cx="1496.7" cy="515.0" r="13.3"/>
<circle cx="1480.3" cy="679.7" r="13.3"/>
<circle cx="1473.9" cy="659.3" r="13.3"/>
<circle cx="1468.0" cy="712.0" r="13.3"/>
<circle cx="1483.6" cy="186.6" r="13.3"/>
<circle cx="1468.1" cy="241.7" r="13.3"/>
<circle cx="1487.3" cy="343.0" r="13.3"/>
<circle cx="1442.7" cy="320.0" r="13.3"/>
<circle cx="1454.2" cy="732.5" r="13.3"/>
<circle cx="1499.4" cy="982.6" r="13.3"/>
<circle cx="1460.2" cy="684.3" r="13.3"/>
<circle cx="1496.9" cy="127.6" r="13.3"/>
<circle cx="1504.7" cy="333.3" r="13.3"/>
<circle cx="1475.2" cy="765.3" r="13.3"/>
<circle cx="1436.2" cy="866.8" r="13.3"/>
<circle cx="1489.9" cy="622.6" r="13.3"/>
<circle cx="1482.4" cy="379.0" r="13.3"/>
<circle cx="1451.6" cy="385.0" r="13.3"/>
<circle cx="1498.6" cy="650.7" r="13.3"/>
<circle cx="1467.4" cy="811.3" r="13.3"/>
<circle cx="1432.5" cy="371.5" r="13.3"/>
<circle cx="1433.4" cy="249.0" r="13.3"/>
<circle cx="1446.5" cy="90.4" r="13.3"/>
<circle cx="1477.8" cy="210.1" r="13.3"/>
<circle cx="1494.6" cy="801.0" r="13.3"/>
<circle cx="1435.9" cy="644.4" r="13.3"/>
<circle cx="1429.6" cy="975.0" r="13.3"/>
<circle cx="1478.8" cy="159.3" r="13.3"/>
<circle cx="1461.4" cy="395.6" r="13.3"/>
<circle cx="1464.0" cy="760.1" r="13.3"/>
<circle cx="1495.1" cy="669.7" r="13.3"/>
<circle cx="1503.2" cy="157.0" r="13.3"/>
<circle cx="1507.1" cy="431.5" r="13.3"/>
<circle cx="1491.7" cy="653.6" r="13.3"/>
<circle cx="1428.1" cy="687.4" r="13.3"/>
<circle cx="1440.1" cy="485.5" r="13.3"/>
<circle cx="1476.0" cy="247.1" r="13.3"/>
<circle cx="1506.1" cy="922.7" r="13.3"/>
<circle cx="1434.5" cy="501.5" r="13.3"/>
<circle cx="1470.0" cy="707.0" r="13.3"/>
<circle cx="1460.3" cy="571.9" r="13.3"/>
<circle cx="1461.2" cy="168.1" r="13.3"/>
<circle cx="1449.8" cy="283.9" r="13.3"/>
<circle cx="1450.0" cy="154.1" r="13.3"/>
<circle cx="1447.3" cy="249.1" r="13.3"/>
<circle cx="1436.3" cy="256.1" r="13.3"/>
<circle cx="1473.2" cy="445.7" r="13.3"/>
<circle cx="1464.4" cy="354.2" r="13.3"/>
<circle cx="1486.3" cy="392.2" r="13.3"/>
<circle cx="1480.3" cy="775.3" r="13.3"/>
<circle cx="1505.9" cy="115.2" r="13.3"/>
<circle cx="1455.6" cy="185.2" r="13.3"/>
<circle cx="1500.2" cy="768.7" r="13.3"/>
<circle cx="1459.4" cy="571.1" r="13.3"/>
<circle cx="1482.0" cy="471.6" r="13.3"/>
<circle cx="1493.8" cy="308.2" r="13.3"/>
<circle cx="1460.3" cy="578.8" r="13.3"/>
<circle cx="1464.4" cy="272.2" r="13.3"/>
<circle cx="1479.6" cy="806.7" r="13.3"/>
<circle cx="1436.9" cy="780.5" r="13.3"/>
<circle cx="1471.4" cy="354.3" r="13.3"/>
<circle cx="1435.6" cy="118.7" r="13.3"/>
<circle cx="1446.2" cy="831.1" r="13.3"/>
<circle cx="1478.9" cy="334.2" r="13.3"/>
<circle cx="1507.5" cy="666.8" r="13.3"/>
<circle cx="1509.7" cy="806.5" r="13.3"/>
<circle cx="1449.2" cy="762.0" r="13.3"/>
<circle cx="1439.8" cy="810.0" r="13.3"/>
<circle cx="1470.3" cy="525.8" r="13.3"/>
<circle cx="1464.0" cy="794.2" r="13.3"/>
<circle cx="1458.9" cy="495.8" r="13.3"/>
<circle cx="1490.8" cy="305.4" r="13.3"/>
<circle cx="1486.0" cy="517.1" r="13.3"/>
<circle cx="1473.9" cy="366.5" r="13.3"/>
<circle cx="1478.8" cy="740.3" r="13.3"/>
<circle cx="1475.5" cy="786.2" r="13.3"/>
<circle cx="1483.3" cy="212.8" r="13.3"/>
<circle cx="1503.9" cy="229.7" r="13.3"/>
<circle cx="1505.4" cy="413.2" r="13.3"/>
<circle cx="1508.1" cy="498.1" r="13.3"/>
<circle cx="1498.3" cy="907.4" r="13.3"/>
<circle cx="1436.4" cy="887.3" r="13.3"/>
<circle cx="1464.8" cy="924.6" r="13.3"/>
<circle cx="1491.9" cy="715.2" r="13.3"/>
<circle cx="1451.9" cy="680.4" r="13.3"/>
<circle cx="1477.6" cy="310.7" r="13.3"/>
<circle cx="1432.3" cy="402.2" r="13.3"/>
<circle cx="1444.5" cy="90.2" r="13.3"/>
<circle cx="1460.6" cy="787.1" r="13.3"/>
<circle cx="1433.6" cy="315.4" r="13.3"/>
<circle cx="1462.6" cy="167.0" r="13.3"/>
<circle cx="1446.7" cy="348.8" r="13.3"/>
<circle cx="1498.5" cy="355.5" r="13.3"/>
<circle cx="1453.9" cy="711.4" r="13.3"/>
<circle cx="1459.0" cy="94.9" r="13.3"/>
<circle cx="1493.6" cy="278.7" r="13.3"/>
<circle cx="1473.7" cy="839.0" r="13.3"/>
<circle cx="1431.9" cy="803.9" r="13.3"/>
<circle cx="1445.6" cy="647.6" r="13.3"/>
<circle cx="1477.9" cy="593.5" r="13.3"/>
<circle cx="1444.1" cy="273.0" r="13.3"/>
<circle cx="1448.2" cy="820.3" r="13.3"/>
<circle cx="1478.9" cy="736.0" r="13.3"/>
<circle cx="1468.4" cy="550.6" r="13.3"/>
<circle cx="1449.9" cy="227.2" r="13.3"/>
<circle cx="1473.7" cy="267.9" r="13.3"/>
<circle cx="1479.8" cy="408.8" r="13.3"/>
<circle cx="1431.0" cy="362.6" r="13.3"/>
<circle cx="1450.3" cy="152.5" r="13.3"/>
<circle cx="1453.0" cy="436.7" r="13.3"/>
<circle cx="1499.9" cy="482.3" r="13.3"/>
<circle cx="1432.0" cy="324.4" r="13.3"/>
<circle cx="1456.3" cy="413.9" r="13.3"/>
<circle cx="1443.8" cy="363.8" r="13.3"/>
<circle cx="1484.8" cy="406.3" r="13.3"/>
<circle cx="1494.3" cy="640.5" r="13.3"/>
<circle cx="1432.5" cy="534.5" r="13.3"/>
<circle cx="1498.6" cy="254.1" r="13.3"/>
<circle cx="1484.9" cy="759.8" r="13.3"/>
<circle cx="1445.6" cy="550.8" r="13.3"/>
<circle cx="1502.9" cy="492.7" r="13.3"/>
<circle cx="1451.8" cy="704.3" r="13.3"/>
<circle cx="1492.5" cy="730.2" r="13.3"/>
<circle cx="1433.9" cy="799.4" r="13.3"/>
<circle cx="1465.2" cy="771.2" r="13.3"/>
<circle cx="1469.3" cy="674.9" r="13.3"/>
<circle cx="1501.3" cy="709.5" r="13.3"/>
<circle cx="1496.4" cy="224.4" r="13.3"/>
<circle cx="1472.6" cy="695.0" r="13.3"/>
<circle cx="1432.0" cy="297.9" r="13.3"/>
<circle cx="1463.1" cy="300.6" r="13.3"/>
<circle cx="1458.6" cy="197.5" r="13.3"/>
<circle cx="1509.4" cy="426.8" r="13.3"/>
<circle cx="1483.6" cy="113.5" r="13.3"/>
<circle cx="1461.0" cy="666.8" r="13.3"/>
<circle cx="1457.7" cy="727.5" r="13.3"/>
<circle cx="1490.7" cy="746.1" r="13.3"/>
<circle cx="1435.7" cy="203.9" r="13.3"/>
<circle cx="1494.8" cy="656.0" r="13.3"/>
<circle cx="1482.8" cy="791.1" r="13.3"/>
<circle cx="1463.5" cy="130.4" r="13.3"/>
<circle cx="1486.0" cy="251.0" r="13.3"/>
<circle cx="1460.4" cy="308.6" r="13.3"/>
<circle cx="1439.5" cy="496.7" r="13.3"/>
<circle cx="1462.0" cy="235.4" r="13.3"/>
<circle cx="1432.0" cy="575.7" r="13.3"/>
<circle cx="1434.9" cy="374.5" r="13.3"/>
<circle cx="1463.8" cy="665.6" r="13.3"/>
<circle cx="1495.5" cy="568.6" r="13.3"/>
<circle cx="1444.5" cy="686.4" r="13.3"/>
<circle cx="1468.9" cy="291.5" r="13.3"/>
<circle cx="1508.1" cy="700.2" r="13.3"/>
<circle cx="1495.7" cy="718.4" r="13.3"/>
<circle cx="1501.8" cy="710.0" r="13.3"/>
<circle cx="1483.1" cy="158.5" r="13.3"/>
<circle cx="1476.1" cy="893.1" r="13.3"/>
<circle cx="1475.5" cy="608.4" r="13.3"/>
<circle cx="1477.1" cy="312.3" r="13.3"/>
<circle cx="1465.9" cy="466.5" r="13.3"/>
<circle cx="1457.4" cy="555.3" r="13.3"/>
<circle cx="1447.4" cy="555.4" r="13.3"/>
<circle cx="1433.2" cy="292.8" r="13.3"/>
<circle cx="1458.1" cy="306.3" r="13.3"/>
<circle cx="1490.9" cy="393.2" r="13.3"/>
<circle cx="1473.1" cy="749.8" r="13.3"/>
<circle cx="1441.2" cy="470.1" r="13.3"/>
<circle cx="1494.6" cy="132.9" r="13.3"/>
<circle cx="1431.2" cy="486.1" r="13.3"/>
<circle cx="1504.2" cy="256.9" r="13.3"/>
<circle cx="1481.2" cy="104.3" r="13.3"/>
<circle cx="1473.4" cy="943.2" r="13.3"/>
<circle cx="1461.6" cy="330.0" r="13.3"/>
<circle cx="1495.5" cy="574.4" r="13.3"/>
<circle cx="1428.4" cy="388.0" r="13.3"/>
<circle cx="1429.1" cy="146.1" r="13.3"/>
<circle cx="1470.5" cy="843.1" r="13.3"/>
<circle cx="1452.2" cy="879.8" r="13.3"/>
<circle cx="1460.7" cy="245.8" r="13.3"/>
<circle cx="1471.8" cy="449.1" r="13.3"/>
<circle cx="1431.4" cy="403.1" r="13.3"/>
<circle cx="1508.4" cy="231.8" r="13.3"/>
<circle cx="1446.3" cy="1139.2" r="13.3"/>
<circle cx="1442.2" cy="1117.5" r="13.3"/>
<circle cx="1439.3" cy="1105.8" r="13.3"/>
<circle cx="1461.3" cy="1096.3" r="13.3"/>
<circle cx="1493.0" cy="1088.3" r="13.3"/>
<circle cx="1490.5" cy="1083.3" r="13.3"/>
<circle cx="1485.5" cy="1078.3" r="13.3"/>
<circle cx="1445.2" cy="1064.5" r="13.3"/>
<circle cx="1480.5" cy="1058.3" r="13.3"/>
<circle cx="1457.2" cy="1053.3" r="13.3"/>
<circle cx="1463.8" cy="1053.3" r="13.3"/>
<circle cx="1482.2" cy="1033.3" r="13.3"/>
<circle cx="1468.8" cy="1033.3" r="13.3"/>
<circle cx="1509.7" cy="1027.5" r="13.3"/>
<circle cx="1445.5" cy="1022.5" r="13.3"/>
<circle cx="1457.2" cy="1028.3" r="13.3"/>
<circle cx="1447.0" cy="1023.0" r="13.3"/>
<circle cx="1439.3" cy="1010.8" r="13.3"/>
<circle cx="1509.7" cy="1012.5" r="13.3"/>
<circle cx="1494.7" cy="1010.0" r="13.3"/>
<circle cx="1439.3" cy="75.8" r="13.3"/>
<circle cx="1492.7" cy="74.2" r="13.3"/>
</g>
<g stroke="#333" stroke-width="4.0" fill="none" stroke-linejoin="round">
<line x1="435.0" x2="435.0" y1="402.0" y2="635.8"/>
<line x1="435.0" x2="435.0" y1="790.8" y2="1004.2"/>
<rect x="357.0" y="635.8" width="155.0" height="155.0" fill="#fff" fill-opacity=".2"/>
<line x1="357.0" x2="512.0" y1="705.0" y2="705.0" stroke-width="7.8"/>
</g>
<g stroke="#333" stroke-width="4.0" fill="none" stroke-linejoin="round">
<line x1="952.0" x2="952.0" y1="419.2" y2="635.8"/>
<line x1="952.0" x2="952.0" y1="783.8" y2="959"/>
<rect x="874.0" y="635.8" width="155.0" height="148.0" fill="#fff" fill-opacity=".2"/>
<line x1="874.0" x2="1029.0" y1="713.0" y2="713.0" stroke-width="7.8"/>
</g>
<g stroke="#333" stroke-width="4.0" fill="none" stroke-linejoin="round">
<line x1="1468.8" x2="1468.8" y1="74.2" y2="277.8"/>
<line x1="1468.8" x2="1468.8" y1="733.3" y2="1140.0"/>
<rect x="1391.0" y="277.8" width="155.20000000000005" height="455.5" fill="#fff" fill-opacity=".2"/>
<line x1="1391.0" x2="1546.2" y1="535.0" y2="535.0" stroke-width="7.8"/>
</g>
<path d="M430.0,325.0L429.3,327.0L428.7,329.0L428.1,331.0L427.5,333.0L427.0,335.0L426.5,337.0L426.1,339.0L425.7,341.0L425.3,343.0L425.0,345.0L424.7,347.0L424.4,349.0L424.0,351.0L423.7,353.0L423.3,355.0L422.9,357.0L422.6,359.0L422.2,361.0L421.9,363.0L421.5,365.0L421.2,367.0L420.9,369.0L420.7,371.0L420.5,373.0L420.3,375.0L420.2,377.0L420.0,379.0L419.9,381.0L419.8,383.0L419.7,385.0L419.6,387.0L419.5,389.0L419.4,391.0L419.3,393.0L419.3,395.0L419.2,397.0L419.2,399.0L419.2,401.0L419.2,403.0L419.3,405.0L419.4,407.0L419.5,409.0L419.6,411.0L419.7,413.0L419.8,415.0L420.0,417.0L420.1,419.0L420.2,421.0L420.2,423.0L420.3,425.0L420.3,427.0L420.4,429.0L420.4,431.0L420.4,433.0L420.5,435.0L420.5,437.0L420.5,439.0L420.5,441.0L420.5,443.0L420.4,445.0L420.3,447.0L420.2,449.0L420.0,451.0L419.8,453.0L419.6,455.0L419.3,457.0L419.1,459.0L418.8,461.0L418.5,463.0L418.2,465.0L418.0,467.0L417.6,469.0L417.3,471.0L416.8,473.0L416.4,475.0L415.9,477.0L415.5,479.0L415.0,481.0L414.6,483.0L414.1,485.0L413.7,487.0L413.3,489.0L412.9,491.0L412.5,493.0L412.1,495.0L411.6,497.0L411.2,499.0L410.8,501.0L410.4,503.0L410.0,505.0L409.5,507.0L409.1,509.0L408.7,511.0L408.3,513.0L407.9,515.0L407.4,517.0L407.0,519.0L406.5,521.0L406.0,523.0L405.5,525.0L405.0,527.0L404.4,529.0L403.8,531.0L403.2,533.0L402.6,535.0L402.0,537.0L401.3,539.0L400.6,541.0L399.9,543.0L399.1,545.0L398.3,547.0L397.4,549.0L396.5,551.0L395.6,553.0L394.5,555.0L393.4,557.0L392.2,559.0L390.9,561.0L389.6,563.0L388.2,565.0L386.8,567.0L385.3,569.0L383.7,571.0L382.0,573.0L380.2,575.0L378.4,577.0L376.5,579.0L374.6,581.0L372.8,583.0L370.9,585.0L369.0,587.0L367.0,589.0L364.9,591.0L362.9,593.0L360.9,595.0L358.9,597.0L356.9,599.0L355.1,601.0L353.2,603.0L351.4,605.0L349.7,607.0L347.9,609.0L346.1,611.0L344.4,613.0L342.6,615.0L340.7,617.0L338.8,619.0L336.8,621.0L334.8,623.0L332.7,625.0L330.7,627.0L328.8,629.0L327.0,631.0L325.2,633.0L323.6,635.0L322.1,637.0L320.5,639.0L319.0,641.0L317.6,643.0L316.3,645.0L315.1,647.0L314.0,649.0L313.0,651.0L312.1,653.0L311.3,655.0L310.5,657.0L309.7,659.0L309.0,661.0L308.4,663.0L307.9,665.0L307.4,667.0L307.0,669.0L306.6,671.0L306.2,673.0L305.8,675.0L305.5,677.0L305.2,679.0L305.1,681.0L305.0,683.0L305.0,685.0L305.1,687.0L305.2,689.0L305.4,691.0L305.6,693.0L305.8,695.0L306.1,697.0L306.4,699.0L306.7,701.0L307.1,703.0L307.7,705.0L308.4,707.0L309.2,709.0L310.0,711.0L310.9,713.0L311.8,715.0L312.6,717.0L313.5,719.0L314.5,721.0L315.6,723.0L316.7,725.0L317.8,727.0L318.9,729.0L320.1,731.0L321.3,733.0L322.6,735.0L323.9,737.0L325.3,739.0L326.8,741.0L328.2,743.0L329.6,745.0L330.9,747.0L332.2,749.0L333.2,751.0L334.3,753.0L335.2,755.0L336.2,757.0L337.1,759.0L337.9,761.0L338.7,763.0L339.4,765.0L340.1,767.0L340.7,769.0L341.2,771.0L341.7,773.0L342.2,775.0L342.7,777.0L343.1,779.0L343.5,781.0L343.9,783.0L344.3,785.0L344.7,787.0L345.1,789.0L345.4,791.0L345.8,793.0L346.1,795.0L346.5,797.0L346.8,799.0L347.2,801.0L347.5,803.0L347.9,805.0L348.2,807.0L348.6,809.0L348.9,811.0L349.3,813.0L349.8,815.0L350.3,817.0L350.9,819.0L351.6,821.0L352.3,823.0L353.2,825.0L354.0,827.0L355.0,829.0L355.9,831.0L356.9,833.0L357.8,835.0L358.9,837.0L360.0,839.0L361.1,841.0L362.3,843.0L363.5,845.0L364.7,847.0L365.9,849.0L367.1,851.0L368.4,853.0L369.7,855.0L371.0,857.0L372.4,859.0L373.8,861.0L375.1,863.0L376.4,865.0L377.7,867.0L378.9,869.0L380.2,871.0L381.4,873.0L382.7,875.0L383.9,877.0L385.1,879.0L386.2,881.0L387.3,883.0L388.4,885.0L389.5,887.0L390.5,889.0L391.5,891.0L392.5,893.0L393.5,895.0L394.5,897.0L395.5,899.0L396.5,901.0L397.5,903.0L398.5,905.0L399.5,907.0L400.6,909.0L401.6,911.0L402.6,913.0L403.6,915.0L404.6,917.0L405.5,919.0L406.5,921.0L407.4,923.0L408.3,925.0L409.2,927.0L410.1,929.0L410.9,931.0L411.8,933.0L412.6,935.0L413.5,937.0L414.3,939.0L415.1,941.0L415.8,943.0L416.6,945.0L417.3,947.0L418.0,949.0L418.6,951.0L419.2,953.0L419.9,955.0L420.4,957.0L421.0,959.0L421.6,961.0L422.1,963.0L422.6,965.0L423.2,967.0L423.6,969.0L424.1,971.0L424.6,973.0L425.0,975.0L425.4,977.0L425.8,979.0L426.2,981.0L426.5,983.0L426.9,985.0L427.2,987.0L427.5,989.0L427.9,991.0L428.2,993.0L428.5,995.0L428.9,997.0L429.2,999.0L429.5,1001.0L429.8,1003.0L430.0,1004.2L440.0,1004.2L440.2,1003.0L440.5,1001.0L440.8,999.0L441.1,997.0L441.5,995.0L441.8,993.0L442.1,991.0L442.5,989.0L442.8,987.0L443.1,985.0L443.5,983.0L443.8,981.0L444.2,979.0L444.6,977.0L445.0,975.0L445.4,973.0L445.9,971.0L446.4,969.0L446.8,967.0L447.4,965.0L447.9,963.0L448.4,961.0L449.0,959.0L449.6,957.0L450.1,955.0L450.8,953.0L451.4,951.0L452.0,949.0L452.7,947.0L453.4,945.0L454.2,943.0L454.9,941.0L455.7,939.0L456.5,937.0L457.4,935.0L458.2,933.0L459.1,931.0L459.9,929.0L460.8,927.0L461.7,925.0L462.6,923.0L463.5,921.0L464.5,919.0L465.4,917.0L466.4,915.0L467.4,913.0L468.4,911.0L469.4,909.0L470.5,907.0L471.5,905.0L472.5,903.0L473.5,901.0L474.5,899.0L475.5,897.0L476.5,895.0L477.5,893.0L478.5,891.0L479.5,889.0L480.5,887.0L481.6,885.0L482.7,883.0L483.8,881.0L484.9,879.0L486.1,877.0L487.3,875.0L488.6,873.0L489.8,871.0L491.1,869.0L492.3,867.0L493.6,865.0L494.9,863.0L496.2,861.0L497.6,859.0L499.0,857.0L500.3,855.0L501.6,853.0L502.9,851.0L504.1,849.0L505.3,847.0L506.5,845.0L507.7,843.0L508.9,841.0L510.0,839.0L511.1,837.0L512.2,835.0L513.1,833.0L514.1,831.0L515.0,829.0L516.0,827.0L516.8,825.0L517.7,823.0L518.4,821.0L519.1,819.0L519.7,817.0L520.2,815.0L520.7,813.0L521.1,811.0L521.4,809.0L521.8,807.0L522.1,805.0L522.5,803.0L522.8,801.0L523.2,799.0L523.5,797.0L523.9,795.0L524.2,793.0L524.6,791.0L524.9,789.0L525.3,787.0L525.7,785.0L526.1,783.0L526.5,781.0L526.9,779.0L527.3,777.0L527.8,775.0L528.3,773.0L528.8,771.0L529.3,769.0L529.9,767.0L530.6,765.0L531.3,763.0L532.1,761.0L532.9,759.0L533.8,757.0L534.8,755.0L535.7,753.0L536.8,751.0L537.8,749.0L539.1,747.0L540.4,745.0L541.8,743.0L543.2,741.0L544.7,739.0L546.1,737.0L547.4,735.0L548.7,733.0L549.9,731.0L551.1,729.0L552.2,727.0L553.3,725.0L554.4,723.0L555.5,721.0L556.5,719.0L557.4,717.0L558.2,715.0L559.1,713.0L560.0,711.0L560.8,709.0L561.6,707.0L562.3,705.0L562.9,703.0L563.3,701.0L563.6,699.0L563.9,697.0L564.2,695.0L564.4,693.0L564.6,691.0L564.8,689.0L564.9,687.0L565.0,685.0L565.0,683.0L564.9,681.0L564.8,679.0L564.5,677.0L564.2,675.0L563.8,673.0L563.4,671.0L563.0,669.0L562.6,667.0L562.1,665.0L561.6,663.0L561.0,661.0L560.3,659.0L559.5,657.0L558.7,655.0L557.9,653.0L557.0,651.0L556.0,649.0L554.9,647.0L553.7,645.0L552.4,643.0L551.0,641.0L549.5,639.0L547.9,637.0L546.4,635.0L544.8,633.0L543.0,631.0L541.2,629.0L539.3,627.0L537.3,625.0L535.2,623.0L533.2,621.0L531.2,619.0L529.3,617.0L527.4,615.0L525.6,613.0L523.9,611.0L522.1,609.0L520.3,607.0L518.6,605.0L516.8,603.0L514.9,601.0L513.1,599.0L511.1,597.0L509.1,595.0L507.1,593.0L505.1,591.0L503.0,589.0L501.0,587.0L499.1,585.0L497.2,583.0L495.4,581.0L493.5,579.0L491.6,577.0L489.8,575.0L488.0,573.0L486.3,571.0L484.7,569.0L483.2,567.0L481.8,565.0L480.4,563.0L479.1,561.0L477.8,559.0L476.6,557.0L475.5,555.0L474.4,553.0L473.5,551.0L472.6,549.0L471.7,547.0L470.9,545.0L470.1,543.0L469.4,541.0L468.7,539.0L468.0,537.0L467.4,535.0L466.8,533.0L466.2,531.0L465.6,529.0L465.0,527.0L464.5,525.0L464.0,523.0L463.5,521.0L463.0,519.0L462.6,517.0L462.1,515.0L461.7,513.0L461.3,511.0L460.9,509.0L460.5,507.0L460.0,505.0L459.6,503.0L459.2,501.0L458.8,499.0L458.4,497.0L457.9,495.0L457.5,493.0L457.1,491.0L456.7,489.0L456.3,487.0L455.9,485.0L455.4,483.0L455.0,481.0L454.5,479.0L454.1,477.0L453.6,475.0L453.2,473.0L452.7,471.0L452.4,469.0L452.0,467.0L451.8,465.0L451.5,463.0L451.2,461.0L450.9,459.0L450.7,457.0L450.4,455.0L450.2,453.0L450.0,451.0L449.8,449.0L449.7,447.0L449.6,445.0L449.5,443.0L449.5,441.0L449.5,439.0L449.5,437.0L449.5,435.0L449.6,433.0L449.6,431.0L449.6,429.0L449.7,427.0L449.7,425.0L449.8,423.0L449.8,421.0L449.9,419.0L450.0,417.0L450.2,415.0L450.3,413.0L450.4,411.0L450.5,409.0L450.6,407.0L450.7,405.0L450.8,403.0L450.8,401.0L450.8,399.0L450.8,397.0L450.7,395.0L450.7,393.0L450.6,391.0L450.5,389.0L450.4,387.0L450.3,385.0L450.2,383.0L450.1,381.0L450.0,379.0L449.8,377.0L449.7,375.0L449.5,373.0L449.3,371.0L449.1,369.0L448.8,367.0L448.5,365.0L448.1,363.0L447.8,361.0L447.4,359.0L447.1,357.0L446.7,355.0L446.3,353.0L446.0,351.0L445.6,349.0L445.3,347.0L445.0,345.0L444.7,343.0L444.3,341.0L443.9,339.0L443.5,337.0L443.0,335.0L442.5,333.0L441.9,331.0L441.3,329.0L440.7,327.0L440.0,325.0Z" fill="#fff" fill-opacity=".2" stroke="#333" stroke-width="4.0" stroke-linejoin="miter"/>
<path d="M940.0,282.0L940.0,284.0L940.0,286.0L940.0,288.0L940.0,290.0L940.0,292.0L940.0,294.0L940.0,296.0L940.0,298.0L940.0,300.0L940.0,302.0L940.0,304.0L940.1,306.0L940.1,308.0L940.2,310.0L940.3,312.0L940.4,314.0L940.5,316.0L940.6,318.0L940.8,320.0L940.9,322.0L941.1,324.0L941.3,326.0L941.5,328.0L941.7,330.0L942.0,332.0L942.2,334.0L942.5,336.0L942.7,338.0L942.9,340.0L943.2,342.0L943.4,344.0L943.6,346.0L943.8,348.0L944.0,350.0L944.2,352.0L944.4,354.0L944.5,356.0L944.6,358.0L944.6,360.0L944.7,362.0L944.7,364.0L944.7,366.0L944.7,368.0L944.7,370.0L944.7,372.0L944.7,374.0L944.7,376.0L944.7,378.0L944.7,380.0L944.7,382.0L944.7,384.0L944.7,386.0L944.5,388.0L944.3,390.0L944.0,392.0L943.6,394.0L943.3,396.0L942.9,398.0L942.6,400.0L942.3,402.0L942.1,404.0L941.8,406.0L941.5,408.0L941.2,410.0L940.9,412.0L940.6,414.0L940.3,416.0L940.0,418.0L939.6,420.0L939.2,422.0L938.7,424.0L938.3,426.0L937.8,428.0L937.3,430.0L936.9,432.0L936.4,434.0L936.0,436.0L935.6,438.0L935.1,440.0L934.7,442.0L934.3,444.0L933.8,446.0L933.4,448.0L933.0,450.0L932.6,452.0L932.2,454.0L931.8,456.0L931.4,458.0L931.0,460.0L930.6,462.0L930.2,464.0L929.8,466.0L929.4,468.0L929.0,470.0L928.6,472.0L928.2,474.0L927.8,476.0L927.4,478.0L926.9,480.0L926.5,482.0L926.0,484.0L925.6,486.0L925.1,488.0L924.7,490.0L924.2,492.0L923.8,494.0L923.3,496.0L922.9,498.0L922.4,500.0L921.9,502.0L921.5,504.0L921.1,506.0L920.6,508.0L920.2,510.0L919.7,512.0L919.3,514.0L918.8,516.0L918.3,518.0L917.9,520.0L917.4,522.0L916.9,524.0L916.3,526.0L915.8,528.0L915.3,530.0L914.7,532.0L914.1,534.0L913.6,536.0L913.0,538.0L912.4,540.0L911.7,542.0L911.1,544.0L910.4,546.0L909.7,548.0L909.0,550.0L908.2,552.0L907.4,554.0L906.6,556.0L905.7,558.0L904.8,560.0L903.8,562.0L902.9,564.0L901.9,566.0L900.9,568.0L899.9,570.0L898.9,572.0L897.9,574.0L896.9,576.0L895.9,578.0L894.8,580.0L893.8,582.0L892.7,584.0L891.6,586.0L890.5,588.0L889.4,590.0L888.3,592.0L887.2,594.0L886.1,596.0L885.1,598.0L884.0,600.0L882.9,602.0L881.9,604.0L880.8,606.0L879.8,608.0L878.7,610.0L877.7,612.0L876.7,614.0L875.6,616.0L874.6,618.0L873.6,620.0L872.5,622.0L871.5,624.0L870.5,626.0L869.5,628.0L868.5,630.0L867.5,632.0L866.5,634.0L865.5,636.0L864.5,638.0L863.5,640.0L862.6,642.0L861.6,644.0L860.6,646.0L859.5,648.0L858.5,650.0L857.5,652.0L856.4,654.0L855.4,656.0L854.3,658.0L853.2,660.0L852.2,662.0L851.0,664.0L849.9,666.0L848.7,668.0L847.5,670.0L846.2,672.0L844.8,674.0L843.5,676.0L842.2,678.0L840.9,680.0L839.7,682.0L838.6,684.0L837.5,686.0L836.4,688.0L835.3,690.0L834.2,692.0L833.2,694.0L832.4,696.0L831.6,698.0L831.0,700.0L830.5,702.0L830.0,704.0L829.6,706.0L829.2,708.0L828.9,710.0L828.6,712.0L828.3,714.0L828.1,716.0L827.9,718.0L827.6,720.0L827.4,722.0L827.3,724.0L827.3,726.0L827.4,728.0L827.6,730.0L827.9,732.0L828.1,734.0L828.3,736.0L828.6,738.0L828.9,740.0L829.3,742.0L829.6,744.0L830.1,746.0L830.5,748.0L831.0,750.0L831.6,752.0L832.3,754.0L833.1,756.0L834.0,758.0L834.9,760.0L835.8,762.0L836.8,764.0L837.7,766.0L838.6,768.0L839.4,770.0L840.3,772.0L841.2,774.0L842.1,776.0L843.0,778.0L843.9,780.0L844.9,782.0L845.8,784.0L846.8,786.0L847.8,788.0L848.8,790.0L849.8,792.0L850.9,794.0L851.9,796.0L853.0,798.0L854.0,800.0L855.1,802.0L856.1,804.0L857.2,806.0L858.3,808.0L859.3,810.0L860.4,812.0L861.5,814.0L862.6,816.0L863.7,818.0L864.8,820.0L865.9,822.0L867.0,824.0L868.1,826.0L869.2,828.0L870.4,830.0L871.6,832.0L872.9,834.0L874.2,836.0L875.6,838.0L877.1,840.0L878.6,842.0L880.1,844.0L881.6,846.0L883.1,848.0L884.5,850.0L885.9,852.0L887.3,854.0L888.8,856.0L890.2,858.0L891.7,860.0L893.1,862.0L894.5,864.0L895.8,866.0L897.2,868.0L898.5,870.0L899.7,872.0L900.9,874.0L902.1,876.0L903.2,878.0L904.2,880.0L905.2,882.0L906.2,884.0L907.2,886.0L908.2,888.0L909.1,890.0L910.0,892.0L910.9,894.0L911.9,896.0L912.8,898.0L913.7,900.0L914.6,902.0L915.6,904.0L916.5,906.0L917.4,908.0L918.3,910.0L919.2,912.0L920.0,914.0L920.9,916.0L921.7,918.0L922.6,920.0L923.4,922.0L924.2,924.0L925.1,926.0L925.8,928.0L926.6,930.0L927.3,932.0L928.0,934.0L928.7,936.0L929.3,938.0L929.9,940.0L930.5,942.0L931.1,944.0L931.7,946.0L932.3,948.0L933.0,950.0L933.7,952.0L934.4,954.0L935.1,956.0L935.8,958.0L936.2,959.0L967.8,959.0L968.2,958.0L968.9,956.0L969.6,954.0L970.3,952.0L971.0,950.0L971.7,948.0L972.3,946.0L972.9,944.0L973.5,942.0L974.1,940.0L974.7,938.0L975.3,936.0L976.0,934.0L976.7,932.0L977.4,930.0L978.2,928.0L978.9,926.0L979.8,924.0L980.6,922.0L981.4,920.0L982.3,918.0L983.1,916.0L984.0,914.0L984.8,912.0L985.7,910.0L986.6,908.0L987.5,906.0L988.4,904.0L989.4,902.0L990.3,900.0L991.2,898.0L992.1,896.0L993.1,894.0L994.0,892.0L994.9,890.0L995.8,888.0L996.8,886.0L997.8,884.0L998.8,882.0L999.8,880.0L1000.8,878.0L1001.9,876.0L1003.1,874.0L1004.3,872.0L1005.5,870.0L1006.8,868.0L1008.2,866.0L1009.5,864.0L1010.9,862.0L1012.3,860.0L1013.8,858.0L1015.2,856.0L1016.7,854.0L1018.1,852.0L1019.5,850.0L1020.9,848.0L1022.4,846.0L1023.9,844.0L1025.4,842.0L1026.9,840.0L1028.4,838.0L1029.8,836.0L1031.1,834.0L1032.4,832.0L1033.6,830.0L1034.8,828.0L1035.9,826.0L1037.0,824.0L1038.1,822.0L1039.2,820.0L1040.3,818.0L1041.4,816.0L1042.5,814.0L1043.6,812.0L1044.7,810.0L1045.7,808.0L1046.8,806.0L1047.9,804.0L1048.9,802.0L1050.0,800.0L1051.0,798.0L1052.1,796.0L1053.1,794.0L1054.2,792.0L1055.2,790.0L1056.2,788.0L1057.2,786.0L1058.2,784.0L1059.1,782.0L1060.1,780.0L1061.0,778.0L1061.9,776.0L1062.8,774.0L1063.7,772.0L1064.6,770.0L1065.4,768.0L1066.3,766.0L1067.2,764.0L1068.2,762.0L1069.1,760.0L1070.0,758.0L1070.9,756.0L1071.7,754.0L1072.4,752.0L1073.0,750.0L1073.5,748.0L1073.9,746.0L1074.4,744.0L1074.7,742.0L1075.1,740.0L1075.4,738.0L1075.7,736.0L1075.9,734.0L1076.1,732.0L1076.4,730.0L1076.6,728.0L1076.7,726.0L1076.7,724.0L1076.6,722.0L1076.4,720.0L1076.1,718.0L1075.9,716.0L1075.7,714.0L1075.4,712.0L1075.1,710.0L1074.8,708.0L1074.4,706.0L1074.0,704.0L1073.5,702.0L1073.0,700.0L1072.4,698.0L1071.6,696.0L1070.8,694.0L1069.8,692.0L1068.7,690.0L1067.6,688.0L1066.5,686.0L1065.4,684.0L1064.3,682.0L1063.1,680.0L1061.8,678.0L1060.5,676.0L1059.2,674.0L1057.8,672.0L1056.5,670.0L1055.3,668.0L1054.1,666.0L1053.0,664.0L1051.8,662.0L1050.8,660.0L1049.7,658.0L1048.6,656.0L1047.6,654.0L1046.5,652.0L1045.5,650.0L1044.5,648.0L1043.4,646.0L1042.4,644.0L1041.4,642.0L1040.5,640.0L1039.5,638.0L1038.5,636.0L1037.5,634.0L1036.5,632.0L1035.5,630.0L1034.5,628.0L1033.5,626.0L1032.5,624.0L1031.5,622.0L1030.4,620.0L1029.4,618.0L1028.4,616.0L1027.3,614.0L1026.3,612.0L1025.3,610.0L1024.2,608.0L1023.2,606.0L1022.1,604.0L1021.1,602.0L1020.0,600.0L1018.9,598.0L1017.9,596.0L1016.8,594.0L1015.7,592.0L1014.6,590.0L1013.5,588.0L1012.4,586.0L1011.3,584.0L1010.2,582.0L1009.2,580.0L1008.1,578.0L1007.1,576.0L1006.1,574.0L1005.1,572.0L1004.1,570.0L1003.1,568.0L1002.1,566.0L1001.1,564.0L1000.2,562.0L999.2,560.0L998.3,558.0L997.4,556.0L996.6,554.0L995.8,552.0L995.0,550.0L994.3,548.0L993.6,546.0L992.9,544.0L992.3,542.0L991.6,540.0L991.0,538.0L990.4,536.0L989.9,534.0L989.3,532.0L988.7,530.0L988.2,528.0L987.7,526.0L987.1,524.0L986.6,522.0L986.1,520.0L985.7,518.0L985.2,516.0L984.7,514.0L984.3,512.0L983.8,510.0L983.4,508.0L982.9,506.0L982.5,504.0L982.1,502.0L981.6,500.0L981.1,498.0L980.7,496.0L980.2,494.0L979.8,492.0L979.3,490.0L978.9,488.0L978.4,486.0L978.0,484.0L977.5,482.0L977.1,480.0L976.6,478.0L976.2,476.0L975.8,474.0L975.4,472.0L975.0,470.0L974.6,468.0L974.2,466.0L973.8,464.0L973.4,462.0L973.0,460.0L972.6,458.0L972.2,456.0L971.8,454.0L971.4,452.0L971.0,450.0L970.6,448.0L970.2,446.0L969.7,444.0L969.3,442.0L968.9,440.0L968.4,438.0L968.0,436.0L967.6,434.0L967.1,432.0L966.7,430.0L966.2,428.0L965.7,426.0L965.3,424.0L964.8,422.0L964.4,420.0L964.0,418.0L963.7,416.0L963.4,414.0L963.1,412.0L962.8,410.0L962.5,408.0L962.2,406.0L961.9,404.0L961.7,402.0L961.4,400.0L961.1,398.0L960.7,396.0L960.4,394.0L960.0,392.0L959.7,390.0L959.5,388.0L959.3,386.0L959.3,384.0L959.3,382.0L959.3,380.0L959.3,378.0L959.3,376.0L959.3,374.0L959.3,372.0L959.3,370.0L959.3,368.0L959.3,366.0L959.3,364.0L959.3,362.0L959.4,360.0L959.4,358.0L959.5,356.0L959.6,354.0L959.8,352.0L960.0,350.0L960.2,348.0L960.4,346.0L960.6,344.0L960.8,342.0L961.1,340.0L961.3,338.0L961.5,336.0L961.8,334.0L962.0,332.0L962.3,330.0L962.5,328.0L962.7,326.0L962.9,324.0L963.1,322.0L963.2,320.0L963.4,318.0L963.5,316.0L963.6,314.0L963.7,312.0L963.8,310.0L963.9,308.0L963.9,306.0L964.0,304.0L964.0,302.0L964.0,300.0L964.0,298.0L964.0,296.0L964.0,294.0L964.0,292.0L964.0,290.0L964.0,288.0L964.0,286.0L964.0,284.0L964.0,282.0Z" fill="#fff" fill-opacity=".2" stroke="#333" stroke-width="4.0" stroke-linejoin="miter"/>
<path d="M1453.4,74.2L1452.4,76.2L1451.4,78.2L1450.5,80.2L1449.6,82.2L1448.7,84.2L1447.8,86.2L1447.0,88.2L1446.2,90.2L1445.5,92.2L1444.8,94.2L1444.1,96.2L1443.4,98.2L1442.8,100.2L1442.1,102.2L1441.4,104.2L1440.7,106.2L1439.9,108.2L1439.1,110.2L1438.3,112.2L1437.5,114.2L1436.6,116.2L1435.8,118.2L1435.0,120.2L1434.2,122.2L1433.5,124.2L1432.7,126.2L1432.0,128.2L1431.2,130.2L1430.5,132.2L1429.8,134.2L1429.2,136.2L1428.5,138.2L1427.9,140.2L1427.4,142.2L1426.8,144.2L1426.3,146.2L1425.7,148.2L1425.2,150.2L1424.7,152.2L1424.3,154.2L1423.9,156.2L1423.5,158.2L1423.2,160.2L1422.8,162.2L1422.5,164.2L1422.2,166.2L1422.0,168.2L1421.7,170.2L1421.4,172.2L1421.2,174.2L1420.9,176.2L1420.7,178.2L1420.5,180.2L1420.2,182.2L1420.0,184.2L1419.9,186.2L1419.7,188.2L1419.6,190.2L1419.5,192.2L1419.4,194.2L1419.3,196.2L1419.2,198.2L1419.1,200.2L1419.1,202.2L1419.0,204.2L1419.0,206.2L1419.0,208.2L1419.0,210.2L1419.0,212.2L1419.0,214.2L1419.0,216.2L1419.0,218.2L1419.0,220.2L1419.0,222.2L1419.0,224.2L1419.0,226.2L1419.1,228.2L1419.1,230.2L1419.2,232.2L1419.3,234.2L1419.3,236.2L1419.4,238.2L1419.5,240.2L1419.6,242.2L1419.7,244.2L1419.8,246.2L1419.9,248.2L1420.0,250.2L1420.1,252.2L1420.3,254.2L1420.4,256.2L1420.5,258.2L1420.7,260.2L1420.8,262.2L1420.9,264.2L1421.1,266.2L1421.2,268.2L1421.4,270.2L1421.6,272.2L1421.7,274.2L1421.9,276.2L1422.0,278.2L1422.2,280.2L1422.3,282.2L1422.4,284.2L1422.5,286.2L1422.6,288.2L1422.8,290.2L1422.9,292.2L1423.0,294.2L1423.1,296.2L1423.3,298.2L1423.4,300.2L1423.6,302.2L1423.7,304.2L1423.9,306.2L1424.0,308.2L1424.2,310.2L1424.3,312.2L1424.5,314.2L1424.7,316.2L1424.8,318.2L1425.0,320.2L1425.2,322.2L1425.3,324.2L1425.5,326.2L1425.7,328.2L1425.8,330.2L1426.0,332.2L1426.2,334.2L1426.4,336.2L1426.5,338.2L1426.7,340.2L1426.9,342.2L1427.1,344.2L1427.2,346.2L1427.4,348.2L1427.6,350.2L1427.8,352.2L1428.0,354.2L1428.2,356.2L1428.4,358.2L1428.7,360.2L1428.9,362.2L1429.1,364.2L1429.3,366.2L1429.5,368.2L1429.7,370.2L1429.9,372.2L1430.1,374.2L1430.3,376.2L1430.5,378.2L1430.7,380.2L1430.8,382.2L1431.0,384.2L1431.2,386.2L1431.3,388.2L1431.5,390.2L1431.6,392.2L1431.8,394.2L1431.9,396.2L1432.1,398.2L1432.2,400.2L1432.4,402.2L1432.5,404.2L1432.6,406.2L1432.8,408.2L1432.9,410.2L1433.0,412.2L1433.2,414.2L1433.3,416.2L1433.4,418.2L1433.5,420.2L1433.6,422.2L1433.8,424.2L1433.9,426.2L1434.0,428.2L1434.1,430.2L1434.2,432.2L1434.4,434.2L1434.5,436.2L1434.6,438.2L1434.7,440.2L1434.8,442.2L1434.9,444.2L1435.0,446.2L1435.1,448.2L1435.1,450.2L1435.1,452.2L1435.2,454.2L1435.2,456.2L1435.2,458.2L1435.3,460.2L1435.3,462.2L1435.3,464.2L1435.4,466.2L1435.4,468.2L1435.4,470.2L1435.4,472.2L1435.4,474.2L1435.4,476.2L1435.4,478.2L1435.4,480.2L1435.4,482.2L1435.4,484.2L1435.4,486.2L1435.4,488.2L1435.4,490.2L1435.3,492.2L1435.3,494.2L1435.3,496.2L1435.3,498.2L1435.3,500.2L1435.3,502.2L1435.3,504.2L1435.2,506.2L1435.2,508.2L1435.2,510.2L1435.1,512.2L1435.1,514.2L1435.0,516.2L1435.0,518.2L1434.9,520.2L1434.9,522.2L1434.8,524.2L1434.8,526.2L1434.7,528.2L1434.6,530.2L1434.5,532.2L1434.4,534.2L1434.2,536.2L1434.1,538.2L1433.9,540.2L1433.8,542.2L1433.6,544.2L1433.4,546.2L1433.3,548.2L1433.1,550.2L1432.9,552.2L1432.7,554.2L1432.4,556.2L1432.2,558.2L1431.9,560.2L1431.6,562.2L1431.3,564.2L1431.0,566.2L1430.7,568.2L1430.3,570.2L1430.0,572.2L1429.7,574.2L1429.4,576.2L1429.1,578.2L1428.8,580.2L1428.5,582.2L1428.2,584.2L1427.8,586.2L1427.5,588.2L1427.2,590.2L1426.8,592.2L1426.5,594.2L1426.1,596.2L1425.8,598.2L1425.5,600.2L1425.1,602.2L1424.8,604.2L1424.4,606.2L1424.1,608.2L1423.7,610.2L1423.3,612.2L1423.0,614.2L1422.6,616.2L1422.3,618.2L1421.9,620.2L1421.6,622.2L1421.2,624.2L1420.9,626.2L1420.6,628.2L1420.2,630.2L1419.9,632.2L1419.5,634.2L1419.2,636.2L1418.8,638.2L1418.5,640.2L1418.2,642.2L1417.9,644.2L1417.6,646.2L1417.3,648.2L1417.1,650.2L1416.8,652.2L1416.6,654.2L1416.4,656.2L1416.1,658.2L1415.9,660.2L1415.7,662.2L1415.5,664.2L1415.3,666.2L1415.1,668.2L1415.0,670.2L1414.8,672.2L1414.7,674.2L1414.6,676.2L1414.6,678.2L1414.5,680.2L1414.4,682.2L1414.3,684.2L1414.3,686.2L1414.2,688.2L1414.1,690.2L1414.1,692.2L1414.1,694.2L1414.0,696.2L1414.0,698.2L1414.0,700.2L1414.0,702.2L1414.1,704.2L1414.1,706.2L1414.2,708.2L1414.2,710.2L1414.3,712.2L1414.4,714.2L1414.5,716.2L1414.6,718.2L1414.6,720.2L1414.7,722.2L1414.8,724.2L1414.9,726.2L1414.9,728.2L1415.0,730.2L1415.1,732.2L1415.3,734.2L1415.4,736.2L1415.5,738.2L1415.7,740.2L1415.8,742.2L1416.0,744.2L1416.2,746.2L1416.3,748.2L1416.5,750.2L1416.7,752.2L1416.9,754.2L1417.1,756.2L1417.2,758.2L1417.4,760.2L1417.6,762.2L1417.8,764.2L1418.0,766.2L1418.3,768.2L1418.5,770.2L1418.7,772.2L1418.9,774.2L1419.2,776.2L1419.4,778.2L1419.6,780.2L1419.9,782.2L1420.1,784.2L1420.3,786.2L1420.6,788.2L1420.8,790.2L1421.1,792.2L1421.3,794.2L1421.6,796.2L1421.8,798.2L1422.1,800.2L1422.4,802.2L1422.8,804.2L1423.1,806.2L1423.5,808.2L1423.8,810.2L1424.2,812.2L1424.5,814.2L1424.9,816.2L1425.3,818.2L1425.6,820.2L1426.0,822.2L1426.4,824.2L1426.7,826.2L1427.1,828.2L1427.5,830.2L1427.9,832.2L1428.3,834.2L1428.7,836.2L1429.1,838.2L1429.6,840.2L1430.0,842.2L1430.5,844.2L1430.9,846.2L1431.4,848.2L1431.8,850.2L1432.3,852.2L1432.8,854.2L1433.2,856.2L1433.7,858.2L1434.2,860.2L1434.6,862.2L1435.1,864.2L1435.6,866.2L1436.0,868.2L1436.5,870.2L1437.0,872.2L1437.4,874.2L1437.9,876.2L1438.3,878.2L1438.8,880.2L1439.2,882.2L1439.7,884.2L1440.1,886.2L1440.6,888.2L1441.0,890.2L1441.5,892.2L1441.9,894.2L1442.3,896.2L1442.7,898.2L1443.1,900.2L1443.5,902.2L1443.9,904.2L1444.3,906.2L1444.7,908.2L1445.1,910.2L1445.5,912.2L1445.8,914.2L1446.2,916.2L1446.6,918.2L1446.9,920.2L1447.3,922.2L1447.7,924.2L1448.0,926.2L1448.4,928.2L1448.7,930.2L1449.1,932.2L1449.4,934.2L1449.8,936.2L1450.1,938.2L1450.4,940.2L1450.8,942.2L1451.1,944.2L1451.4,946.2L1451.7,948.2L1452.0,950.2L1452.3,952.2L1452.6,954.2L1452.9,956.2L1453.2,958.2L1453.5,960.2L1453.8,962.2L1454.0,964.2L1454.3,966.2L1454.6,968.2L1454.9,970.2L1455.1,972.2L1455.4,974.2L1455.7,976.2L1455.9,978.2L1456.2,980.2L1456.5,982.2L1456.8,984.2L1457.0,986.2L1457.3,988.2L1457.6,990.2L1457.8,992.2L1458.1,994.2L1458.4,996.2L1458.6,998.2L1458.8,1000.2L1459.0,1002.2L1459.3,1004.2L1459.5,1006.2L1459.7,1008.2L1459.9,1010.2L1460.1,1012.2L1460.3,1014.2L1460.5,1016.2L1460.7,1018.2L1460.9,1020.2L1461.1,1022.2L1461.2,1024.2L1461.4,1026.2L1461.6,1028.2L1461.7,1030.2L1461.9,1032.2L1462.0,1034.2L1462.2,1036.2L1462.3,1038.2L1462.4,1040.2L1462.6,1042.2L1462.7,1044.2L1462.9,1046.2L1463.0,1048.2L1463.1,1050.2L1463.2,1052.2L1463.4,1054.2L1463.5,1056.2L1463.6,1058.2L1463.8,1060.2L1463.9,1062.2L1464.0,1064.2L1464.1,1066.2L1464.2,1068.2L1464.3,1070.2L1464.5,1072.2L1464.6,1074.2L1464.7,1076.2L1464.8,1078.2L1464.8,1080.2L1464.9,1082.2L1465.0,1084.2L1465.1,1086.2L1465.2,1088.2L1465.3,1090.2L1465.3,1092.2L1465.4,1094.2L1465.5,1096.2L1465.6,1098.2L1465.7,1100.2L1465.7,1102.2L1465.8,1104.2L1465.9,1106.2L1466.0,1108.2L1466.1,1110.2L1466.2,1112.2L1466.3,1114.2L1466.4,1116.2L1466.5,1118.2L1466.6,1120.2L1466.7,1122.2L1466.8,1124.2L1466.9,1126.2L1467.0,1128.2L1467.1,1130.2L1467.2,1132.2L1467.3,1134.2L1467.4,1136.2L1467.5,1138.2L1467.6,1140.0L1470.0,1140.0L1470.1,1138.2L1470.2,1136.2L1470.3,1134.2L1470.4,1132.2L1470.5,1130.2L1470.6,1128.2L1470.7,1126.2L1470.8,1124.2L1470.9,1122.2L1471.0,1120.2L1471.1,1118.2L1471.2,1116.2L1471.3,1114.2L1471.4,1112.2L1471.5,1110.2L1471.6,1108.2L1471.7,1106.2L1471.8,1104.2L1471.9,1102.2L1471.9,1100.2L1472.0,1098.2L1472.1,1096.2L1472.2,1094.2L1472.3,1092.2L1472.3,1090.2L1472.4,1088.2L1472.5,1086.2L1472.6,1084.2L1472.7,1082.2L1472.8,1080.2L1472.8,1078.2L1472.9,1076.2L1473.0,1074.2L1473.1,1072.2L1473.3,1070.2L1473.4,1068.2L1473.5,1066.2L1473.6,1064.2L1473.7,1062.2L1473.8,1060.2L1474.0,1058.2L1474.1,1056.2L1474.2,1054.2L1474.4,1052.2L1474.5,1050.2L1474.6,1048.2L1474.7,1046.2L1474.9,1044.2L1475.0,1042.2L1475.2,1040.2L1475.3,1038.2L1475.4,1036.2L1475.6,1034.2L1475.7,1032.2L1475.9,1030.2L1476.0,1028.2L1476.2,1026.2L1476.4,1024.2L1476.5,1022.2L1476.7,1020.2L1476.9,1018.2L1477.1,1016.2L1477.3,1014.2L1477.5,1012.2L1477.7,1010.2L1477.9,1008.2L1478.1,1006.2L1478.3,1004.2L1478.6,1002.2L1478.8,1000.2L1479.0,998.2L1479.2,996.2L1479.5,994.2L1479.8,992.2L1480.0,990.2L1480.3,988.2L1480.6,986.2L1480.8,984.2L1481.1,982.2L1481.4,980.2L1481.7,978.2L1481.9,976.2L1482.2,974.2L1482.5,972.2L1482.7,970.2L1483.0,968.2L1483.3,966.2L1483.6,964.2L1483.8,962.2L1484.1,960.2L1484.4,958.2L1484.7,956.2L1485.0,954.2L1485.3,952.2L1485.6,950.2L1485.9,948.2L1486.2,946.2L1486.5,944.2L1486.8,942.2L1487.2,940.2L1487.5,938.2L1487.8,936.2L1488.2,934.2L1488.5,932.2L1488.9,930.2L1489.2,928.2L1489.6,926.2L1489.9,924.2L1490.3,922.2L1490.7,920.2L1491.0,918.2L1491.4,916.2L1491.8,914.2L1492.1,912.2L1492.5,910.2L1492.9,908.2L1493.3,906.2L1493.7,904.2L1494.1,902.2L1494.5,900.2L1494.9,898.2L1495.3,896.2L1495.7,894.2L1496.1,892.2L1496.6,890.2L1497.0,888.2L1497.5,886.2L1497.9,884.2L1498.4,882.2L1498.8,880.2L1499.3,878.2L1499.7,876.2L1500.2,874.2L1500.6,872.2L1501.1,870.2L1501.6,868.2L1502.0,866.2L1502.5,864.2L1503.0,862.2L1503.4,860.2L1503.9,858.2L1504.4,856.2L1504.8,854.2L1505.3,852.2L1505.8,850.2L1506.2,848.2L1506.7,846.2L1507.1,844.2L1507.6,842.2L1508.0,840.2L1508.5,838.2L1508.9,836.2L1509.3,834.2L1509.7,832.2L1510.1,830.2L1510.5,828.2L1510.9,826.2L1511.2,824.2L1511.6,822.2L1512.0,820.2L1512.3,818.2L1512.7,816.2L1513.1,814.2L1513.4,812.2L1513.8,810.2L1514.1,808.2L1514.5,806.2L1514.8,804.2L1515.2,802.2L1515.5,800.2L1515.8,798.2L1516.0,796.2L1516.3,794.2L1516.5,792.2L1516.8,790.2L1517.0,788.2L1517.3,786.2L1517.5,784.2L1517.7,782.2L1518.0,780.2L1518.2,778.2L1518.4,776.2L1518.7,774.2L1518.9,772.2L1519.1,770.2L1519.3,768.2L1519.6,766.2L1519.8,764.2L1520.0,762.2L1520.2,760.2L1520.4,758.2L1520.5,756.2L1520.7,754.2L1520.9,752.2L1521.1,750.2L1521.3,748.2L1521.4,746.2L1521.6,744.2L1521.8,742.2L1521.9,740.2L1522.1,738.2L1522.2,736.2L1522.3,734.2L1522.5,732.2L1522.6,730.2L1522.7,728.2L1522.7,726.2L1522.8,724.2L1522.9,722.2L1523.0,720.2L1523.0,718.2L1523.1,716.2L1523.2,714.2L1523.3,712.2L1523.4,710.2L1523.4,708.2L1523.5,706.2L1523.5,704.2L1523.6,702.2L1523.6,700.2L1523.6,698.2L1523.6,696.2L1523.5,694.2L1523.5,692.2L1523.5,690.2L1523.4,688.2L1523.3,686.2L1523.3,684.2L1523.2,682.2L1523.1,680.2L1523.0,678.2L1523.0,676.2L1522.9,674.2L1522.8,672.2L1522.6,670.2L1522.5,668.2L1522.3,666.2L1522.1,664.2L1521.9,662.2L1521.7,660.2L1521.5,658.2L1521.2,656.2L1521.0,654.2L1520.8,652.2L1520.5,650.2L1520.3,648.2L1520.0,646.2L1519.7,644.2L1519.4,642.2L1519.1,640.2L1518.8,638.2L1518.4,636.2L1518.1,634.2L1517.7,632.2L1517.4,630.2L1517.0,628.2L1516.7,626.2L1516.4,624.2L1516.0,622.2L1515.7,620.2L1515.3,618.2L1515.0,616.2L1514.6,614.2L1514.3,612.2L1513.9,610.2L1513.5,608.2L1513.2,606.2L1512.8,604.2L1512.5,602.2L1512.1,600.2L1511.8,598.2L1511.5,596.2L1511.1,594.2L1510.8,592.2L1510.4,590.2L1510.1,588.2L1509.8,586.2L1509.4,584.2L1509.1,582.2L1508.8,580.2L1508.5,578.2L1508.2,576.2L1507.9,574.2L1507.6,572.2L1507.3,570.2L1506.9,568.2L1506.6,566.2L1506.3,564.2L1506.0,562.2L1505.7,560.2L1505.4,558.2L1505.2,556.2L1504.9,554.2L1504.7,552.2L1504.5,550.2L1504.3,548.2L1504.2,546.2L1504.0,544.2L1503.8,542.2L1503.7,540.2L1503.5,538.2L1503.4,536.2L1503.2,534.2L1503.1,532.2L1503.0,530.2L1502.9,528.2L1502.8,526.2L1502.8,524.2L1502.7,522.2L1502.7,520.2L1502.6,518.2L1502.6,516.2L1502.5,514.2L1502.5,512.2L1502.4,510.2L1502.4,508.2L1502.4,506.2L1502.3,504.2L1502.3,502.2L1502.3,500.2L1502.3,498.2L1502.3,496.2L1502.3,494.2L1502.3,492.2L1502.2,490.2L1502.2,488.2L1502.2,486.2L1502.2,484.2L1502.2,482.2L1502.2,480.2L1502.2,478.2L1502.2,476.2L1502.2,474.2L1502.2,472.2L1502.2,470.2L1502.2,468.2L1502.2,466.2L1502.3,464.2L1502.3,462.2L1502.3,460.2L1502.4,458.2L1502.4,456.2L1502.4,454.2L1502.5,452.2L1502.5,450.2L1502.5,448.2L1502.6,446.2L1502.7,444.2L1502.8,442.2L1502.9,440.2L1503.0,438.2L1503.1,436.2L1503.2,434.2L1503.4,432.2L1503.5,430.2L1503.6,428.2L1503.7,426.2L1503.8,424.2L1504.0,422.2L1504.1,420.2L1504.2,418.2L1504.3,416.2L1504.4,414.2L1504.6,412.2L1504.7,410.2L1504.8,408.2L1505.0,406.2L1505.1,404.2L1505.2,402.2L1505.4,400.2L1505.5,398.2L1505.7,396.2L1505.8,394.2L1506.0,392.2L1506.1,390.2L1506.3,388.2L1506.4,386.2L1506.6,384.2L1506.8,382.2L1506.9,380.2L1507.1,378.2L1507.3,376.2L1507.5,374.2L1507.7,372.2L1507.9,370.2L1508.1,368.2L1508.3,366.2L1508.5,364.2L1508.7,362.2L1508.9,360.2L1509.2,358.2L1509.4,356.2L1509.6,354.2L1509.8,352.2L1510.0,350.2L1510.2,348.2L1510.4,346.2L1510.5,344.2L1510.7,342.2L1510.9,340.2L1511.1,338.2L1511.2,336.2L1511.4,334.2L1511.6,332.2L1511.8,330.2L1511.9,328.2L1512.1,326.2L1512.3,324.2L1512.4,322.2L1512.6,320.2L1512.8,318.2L1512.9,316.2L1513.1,314.2L1513.3,312.2L1513.4,310.2L1513.6,308.2L1513.7,306.2L1513.9,304.2L1514.0,302.2L1514.2,300.2L1514.3,298.2L1514.5,296.2L1514.6,294.2L1514.7,292.2L1514.8,290.2L1515.0,288.2L1515.1,286.2L1515.2,284.2L1515.3,282.2L1515.4,280.2L1515.6,278.2L1515.7,276.2L1515.9,274.2L1516.0,272.2L1516.2,270.2L1516.4,268.2L1516.5,266.2L1516.7,264.2L1516.8,262.2L1516.9,260.2L1517.1,258.2L1517.2,256.2L1517.3,254.2L1517.5,252.2L1517.6,250.2L1517.7,248.2L1517.8,246.2L1517.9,244.2L1518.0,242.2L1518.1,240.2L1518.2,238.2L1518.3,236.2L1518.3,234.2L1518.4,232.2L1518.5,230.2L1518.5,228.2L1518.6,226.2L1518.6,224.2L1518.6,222.2L1518.6,220.2L1518.6,218.2L1518.6,216.2L1518.6,214.2L1518.6,212.2L1518.6,210.2L1518.6,208.2L1518.6,206.2L1518.6,204.2L1518.5,202.2L1518.5,200.2L1518.4,198.2L1518.3,196.2L1518.2,194.2L1518.1,192.2L1518.0,190.2L1517.9,188.2L1517.7,186.2L1517.6,184.2L1517.4,182.2L1517.1,180.2L1516.9,178.2L1516.7,176.2L1516.4,174.2L1516.2,172.2L1515.9,170.2L1515.6,168.2L1515.4,166.2L1515.1,164.2L1514.8,162.2L1514.4,160.2L1514.1,158.2L1513.7,156.2L1513.3,154.2L1512.9,152.2L1512.4,150.2L1511.9,148.2L1511.3,146.2L1510.8,144.2L1510.2,142.2L1509.7,140.2L1509.1,138.2L1508.4,136.2L1507.8,134.2L1507.1,132.2L1506.4,130.2L1505.6,128.2L1504.9,126.2L1504.1,124.2L1503.4,122.2L1502.6,120.2L1501.8,118.2L1501.0,116.2L1500.1,114.2L1499.3,112.2L1498.5,110.2L1497.7,108.2L1496.9,106.2L1496.2,104.2L1495.5,102.2L1494.8,100.2L1494.2,98.2L1493.5,96.2L1492.8,94.2L1492.1,92.2L1491.4,90.2L1490.6,88.2L1489.8,86.2L1488.9,84.2L1488.0,82.2L1487.1,80.2L1486.2,78.2L1485.2,76.2L1484.2,74.2Z" fill="#fff" fill-opacity=".2" stroke="#333" stroke-width="4.0" stroke-linejoin="miter"/>
<circle cx="435.2" cy="701.3" r="23.6" fill="#8B0000"/>
<circle cx="952.4" cy="695.1" r="23.6" fill="#8B0000"/>
<circle cx="1469.0" cy="520.0" r="23.6" fill="#8B0000"/>
<line x1="531.0" x2="440.2" y1="701.3" y2="701.3" stroke="#000" stroke-width="3" stroke-dasharray="3.5 12 16 12" stroke-linecap="round"/>
<rect x="531.0" y="666.9" width="221.0" height="67.9" rx="6" ry="6" fill="#fff" stroke="#000" stroke-width="2"/>
<text class="mu" x="544.66" y="714.10" font-size="35.3" textLength="23.44" lengthAdjust="spacingAndGlyphs" stroke="#fff" stroke-width="0.2">μ</text>
<text class="lb" font-size="33.0" stroke="#fff" stroke-width="0.3" transform="translate(544.64,704.04) scale(1.596,1)">^</text>
<text class="lb" x="566.58" y="720.80" font-size="24.6" textLength="64.80" lengthAdjust="spacingAndGlyphs">mean</text>
<text class="lb" x="637.06" y="713.20" font-size="25.5" textLength="23.20" lengthAdjust="spacingAndGlyphs">=</text>
<text class="lb" x="666.62" y="714.10" font-size="37.8" textLength="70.81" lengthAdjust="spacingAndGlyphs">8.12</text>
<line x1="1048.4" x2="957.4" y1="695.1" y2="695.1" stroke="#000" stroke-width="3" stroke-dasharray="3.5 12 16 12" stroke-linecap="round"/>
<rect x="1048.4" y="661.0" width="221.0" height="67.9" rx="6" ry="6" fill="#fff" stroke="#000" stroke-width="2"/>
<text class="mu" x="1062.06" y="708.20" font-size="35.3" textLength="23.44" lengthAdjust="spacingAndGlyphs" stroke="#fff" stroke-width="0.2">μ</text>
<text class="lb" font-size="33.0" stroke="#fff" stroke-width="0.3" transform="translate(1062.04,698.14) scale(1.596,1)">^</text>
<text class="lb" x="1083.98" y="714.90" font-size="24.6" textLength="64.80" lengthAdjust="spacingAndGlyphs">mean</text>
<text class="lb" x="1154.46" y="707.30" font-size="25.5" textLength="23.20" lengthAdjust="spacingAndGlyphs">=</text>
<text class="lb" x="1184.02" y="708.20" font-size="37.8" textLength="70.81" lengthAdjust="spacingAndGlyphs">8.17</text>
<line x1="1543.0" x2="1474.0" y1="520.0" y2="520.0" stroke="#000" stroke-width="3" stroke-dasharray="3.5 12 16 12" stroke-linecap="round"/>
<rect x="1543.0" y="486.9" width="221.0" height="66.9" rx="6" ry="6" fill="#fff" stroke="#000" stroke-width="2"/>
<text class="mu" x="1556.66" y="533.10" font-size="35.3" textLength="23.44" lengthAdjust="spacingAndGlyphs" stroke="#fff" stroke-width="0.2">μ</text>
<text class="lb" font-size="33.0" stroke="#fff" stroke-width="0.3" transform="translate(1556.64,523.04) scale(1.596,1)">^</text>
<text class="lb" x="1578.58" y="539.80" font-size="24.6" textLength="64.80" lengthAdjust="spacingAndGlyphs">mean</text>
<text class="lb" x="1649.06" y="532.20" font-size="25.5" textLength="23.20" lengthAdjust="spacingAndGlyphs">=</text>
<text class="lb" x="1678.50" y="533.10" font-size="37.8" textLength="70.62" lengthAdjust="spacingAndGlyphs">9.75</text>
<g stroke="#333" stroke-width="4">
<line x1="114" x2="124.5" y1="1158.0" y2="1158.0"/>
<line x1="114" x2="124.5" y1="936.2" y2="936.2"/>
<line x1="114" x2="124.5" y1="714.4" y2="714.4"/>
<line x1="114" x2="124.5" y1="492.5" y2="492.5"/>
<line x1="114" x2="124.5" y1="270.7" y2="270.7"/>
<line x1="114" x2="124.5" y1="48.9" y2="48.9"/>
<line x1="435.0" x2="435.0" y1="1192.8" y2="1203.0"/>
<line x1="952.0" x2="952.0" y1="1192.8" y2="1203.0"/>
<line x1="1468.8" x2="1468.8" y1="1192.8" y2="1203.0"/>
</g>
<text class="tk" x="70.71" y="62.90" font-size="34.3" textLength="34.91" lengthAdjust="spacingAndGlyphs">14</text>
<text class="tk" x="70.68" y="283.80" font-size="34.3" textLength="35.32" lengthAdjust="spacingAndGlyphs">12</text>
<text class="tk" x="70.67" y="505.70" font-size="34.3" textLength="35.48" lengthAdjust="spacingAndGlyphs">10</text>
<text class="tk" x="87.66" y="727.60" font-size="34.3" textLength="18.49" lengthAdjust="spacingAndGlyphs">8</text>
<text class="tk" x="87.14" y="948.50" font-size="34.3" textLength="19.28" lengthAdjust="spacingAndGlyphs">6</text>
<text class="tk" x="87.23" y="1170.80" font-size="34.3" textLength="18.54" lengthAdjust="spacingAndGlyphs">4</text>
<text class="tk" x="380.31" y="1236.70" font-size="34.3" textLength="107.26" lengthAdjust="spacingAndGlyphs">Healthy</text>
<text class="tk" x="368.76" y="1273.00" font-size="34.3" textLength="132.48" lengthAdjust="spacingAndGlyphs">(n = 266)</text>
<text class="tk" x="888.94" y="1236.70" font-size="34.3" textLength="125.50" lengthAdjust="spacingAndGlyphs">Adjacent</text>
<text class="tk" x="894.76" y="1273.00" font-size="34.3" textLength="114.49" lengthAdjust="spacingAndGlyphs">(n = 51)</text>
<text class="tk" x="1430.84" y="1236.70" font-size="34.3" textLength="76.10" lengthAdjust="spacingAndGlyphs">Case</text>
<text class="tk" x="1389.77" y="1273.00" font-size="34.3" textLength="159.47" lengthAdjust="spacingAndGlyphs">(n = 1,293)</text>
<text class="yt" font-size="43.0" transform="translate(52,878.82) rotate(-90)" textLength="545.11" lengthAdjust="spacingAndGlyphs">Molecule Expression (log2)</text>
</svg></body></html>
